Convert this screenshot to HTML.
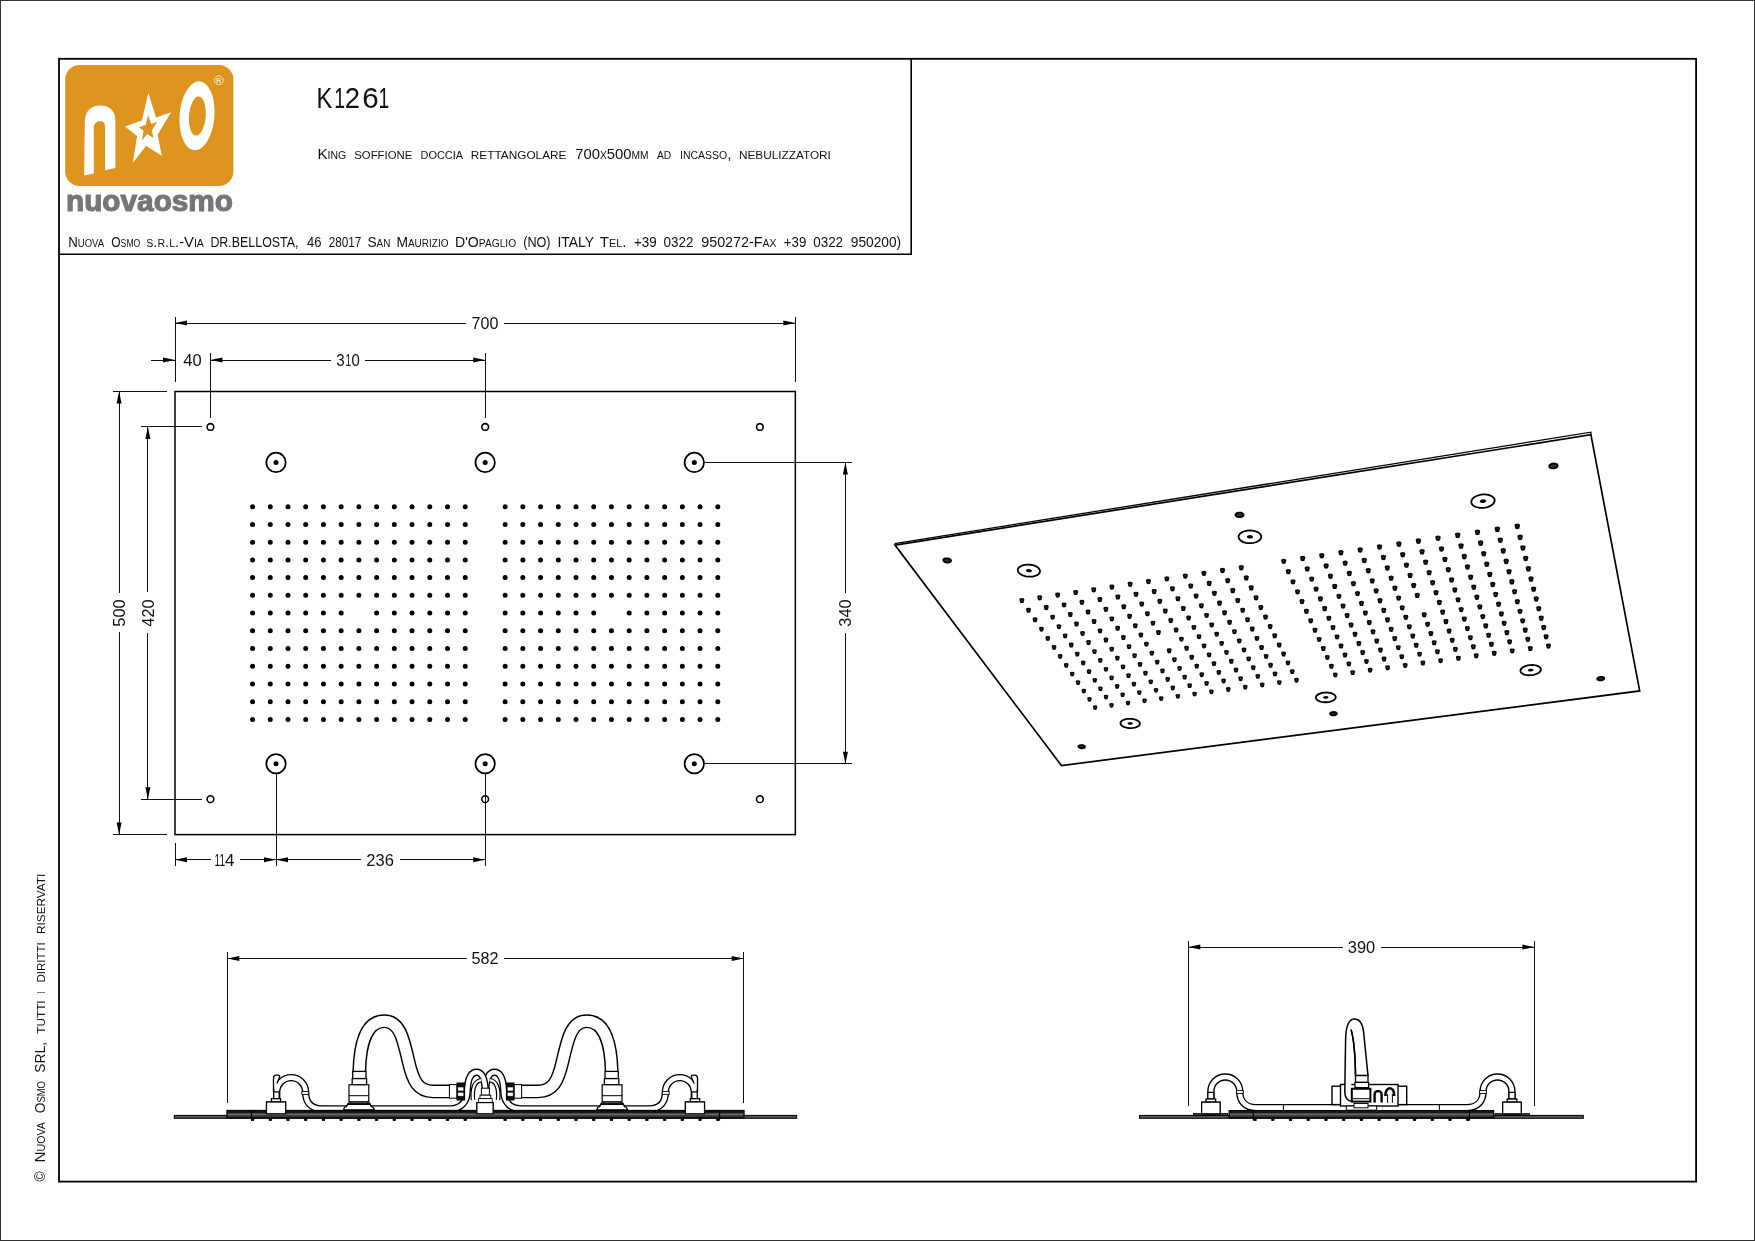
<!DOCTYPE html>
<html lang="it">
<head>
<meta charset="utf-8">
<title>K1261 - Nuova Osmo</title>
<style>
html,body{margin:0;padding:0;background:#fff;}
body{width:1755px;height:1241px;overflow:hidden;position:relative;}
svg{position:absolute;left:0;top:0;display:block;will-change:transform;}
text{font-family:"Liberation Sans", sans-serif;}
.t{fill:#111;}
.sc{font-variant:small-caps;font-variant-caps:small-caps;}
.dt{fill:#111;}
</style>
</head>
<body>
<svg width="1755" height="1241" viewBox="0 0 1755 1241">
<rect x="0.5" y="0.5" width="1754" height="1240" fill="#fff" stroke="#333" stroke-width="1"/>
<rect x="59" y="58.8" width="1637.1" height="1122.8" fill="none" stroke="#000" stroke-width="1.8"/>
<path d="M59,254.3 H911.2 V58.8" fill="none" stroke="#000" stroke-width="1.6"/>
<g id="logo">
<rect x="65.2" y="64.9" width="168.2" height="121.2" rx="14.5" ry="14.5" fill="#DE941F"/>
<path d="M84.2,175.4 L84.8,122 C85,110 92,105.6 100.2,105.6 C108.5,105.6 115.4,110 115.4,121 L115.4,168.1 L105.1,170.3 L105.1,127.5 C105.1,123 103.3,121.2 100.4,121.2 C97,121.2 93.8,123 93.8,128 L93.8,173.4 Z" fill="#fff"/>
<polygon points="148.3,92.9 156.1,117.4 171.1,112.2 157.6,134.8 161.9,156.1 146.1,145.7 132.8,163.1 137.1,136.1 124.9,126.4 141.9,120.6" fill="#fff"/>
<polygon points="148.1,115.1 151.2,123.9 157.2,122.1 151.8,130.2 153.6,137.9 147.2,134.1 141.9,140.4 143.6,130.7 138.8,127.2 145.6,125.1" fill="#DE941F"/>
<g transform="rotate(4.5 197 115.8)"><ellipse cx="197" cy="115.8" rx="17.4" ry="34.6" fill="#fff"/><ellipse cx="197.4" cy="116" rx="8.4" ry="19.6" fill="#DE941F"/></g>
<circle cx="218.8" cy="80.2" r="4.4" fill="none" stroke="#fbe6bd" stroke-width="1"/>
<text x="218.8" y="82.9" text-anchor="middle" font-size="7.5" font-weight="bold" fill="#fbe6bd" font-family='"Liberation Sans", sans-serif'>R</text>
<text x="66.0" y="211.0" font-size="30.2" font-weight="bold" fill="#767676" stroke="#767676" stroke-width="1.2" stroke-linejoin="round" textLength="167" lengthAdjust="spacingAndGlyphs" font-family='"Liberation Sans", sans-serif'>nuovaosmo</text>
</g>
<text y="107.90" font-size="29.3" class="t"><tspan x="316.55" textLength="15.83" lengthAdjust="spacingAndGlyphs">K</tspan><tspan x="334.30" textLength="10.76" lengthAdjust="spacingAndGlyphs">1</tspan><tspan x="344.83" textLength="15.25" lengthAdjust="spacingAndGlyphs">2</tspan><tspan x="362.30" textLength="16.41" lengthAdjust="spacingAndGlyphs">6</tspan><tspan x="378.40" textLength="10.76" lengthAdjust="spacingAndGlyphs">1</tspan></text>
<text y="158.60" font-size="14.5" class="t sc"><tspan x="317.40" textLength="28.80" lengthAdjust="spacingAndGlyphs">King</tspan> <tspan x="354.30" textLength="58.00" lengthAdjust="spacingAndGlyphs">soffione</tspan> <tspan x="420.50" textLength="42.60" lengthAdjust="spacingAndGlyphs">doccia</tspan> <tspan x="470.80" textLength="95.70" lengthAdjust="spacingAndGlyphs">rettangolare</tspan> <tspan x="575.20" textLength="73.30" lengthAdjust="spacingAndGlyphs">700x500mm</tspan> <tspan x="657.00" textLength="14.20" lengthAdjust="spacingAndGlyphs">ad</tspan> <tspan x="680.00" textLength="51.50" lengthAdjust="spacingAndGlyphs">incasso,</tspan> <tspan x="739.00" textLength="91.90" lengthAdjust="spacingAndGlyphs">nebulizzatori</tspan></text>
<text y="246.60" font-size="13.9" class="t sc"><tspan x="68.20" textLength="35.90" lengthAdjust="spacingAndGlyphs">Nuova</tspan> <tspan x="111.30" textLength="29.00" lengthAdjust="spacingAndGlyphs">Osmo</tspan> <tspan x="146.30" textLength="57.60" lengthAdjust="spacingAndGlyphs">s.r.l.-Via</tspan> <tspan x="210.40" textLength="88.10" lengthAdjust="spacingAndGlyphs">DR.BELLOSTA,</tspan> <tspan x="307.00" textLength="14.50" lengthAdjust="spacingAndGlyphs">46</tspan> <tspan x="328.70" textLength="32.70" lengthAdjust="spacingAndGlyphs">28017</tspan> <tspan x="367.40" textLength="23.00" lengthAdjust="spacingAndGlyphs">San</tspan> <tspan x="396.40" textLength="52.10" lengthAdjust="spacingAndGlyphs">Maurizio</tspan> <tspan x="454.90" textLength="61.20" lengthAdjust="spacingAndGlyphs">D&#39;Opaglio</tspan> <tspan x="523.20" textLength="27.40" lengthAdjust="spacingAndGlyphs">(NO)</tspan> <tspan x="557.40" textLength="36.40" lengthAdjust="spacingAndGlyphs">ITALY</tspan> <tspan x="599.80" textLength="26.50" lengthAdjust="spacingAndGlyphs">Tel.</tspan> <tspan x="634.00" textLength="22.80" lengthAdjust="spacingAndGlyphs">+39</tspan> <tspan x="663.60" textLength="29.90" lengthAdjust="spacingAndGlyphs">0322</tspan> <tspan x="701.20" textLength="75.20" lengthAdjust="spacingAndGlyphs">950272-Fax</tspan> <tspan x="783.80" textLength="22.50" lengthAdjust="spacingAndGlyphs">+39</tspan> <tspan x="813.20" textLength="29.90" lengthAdjust="spacingAndGlyphs">0322</tspan> <tspan x="850.80" textLength="50.40" lengthAdjust="spacingAndGlyphs">950200)</tspan></text>
<text transform="translate(45.20,1181.60) rotate(-90)" font-size="14.4" class="t sc"><tspan x="0.00" textLength="10.20" lengthAdjust="spacingAndGlyphs">©</tspan> <tspan x="19.10" textLength="40.50" lengthAdjust="spacingAndGlyphs">Nuova</tspan> <tspan x="68.40" textLength="32.20" lengthAdjust="spacingAndGlyphs">Osmo</tspan> <tspan x="108.90" textLength="30.70" lengthAdjust="spacingAndGlyphs">SRL,</tspan> <tspan x="147.90" textLength="33.30" lengthAdjust="spacingAndGlyphs">tutti</tspan> <tspan x="188.00" textLength="1.70" lengthAdjust="spacingAndGlyphs">i</tspan> <tspan x="199.00" textLength="40.40" lengthAdjust="spacingAndGlyphs">diritti</tspan> <tspan x="247.60" textLength="60.30" lengthAdjust="spacingAndGlyphs">riservati</tspan></text>
<rect x="175.0" y="391.5" width="620.34" height="443.10" fill="none" stroke="#000" stroke-width="1.5"/>
<circle cx="210.45" cy="426.95" r="3.35" fill="#fff" stroke="#000" stroke-width="1.6"/>
<circle cx="485.17" cy="426.95" r="3.35" fill="#fff" stroke="#000" stroke-width="1.6"/>
<circle cx="759.89" cy="426.95" r="3.35" fill="#fff" stroke="#000" stroke-width="1.6"/>
<circle cx="210.45" cy="799.15" r="3.35" fill="#fff" stroke="#000" stroke-width="1.6"/>
<circle cx="485.17" cy="799.15" r="3.35" fill="#fff" stroke="#000" stroke-width="1.6"/>
<circle cx="759.89" cy="799.15" r="3.35" fill="#fff" stroke="#000" stroke-width="1.6"/>
<circle cx="276.03" cy="462.40" r="9.7" fill="none" stroke="#000" stroke-width="1.75"/>
<circle cx="276.03" cy="462.40" r="2.5" fill="#000"/>
<circle cx="485.17" cy="462.40" r="9.7" fill="none" stroke="#000" stroke-width="1.75"/>
<circle cx="485.17" cy="462.40" r="2.5" fill="#000"/>
<circle cx="694.31" cy="462.40" r="9.7" fill="none" stroke="#000" stroke-width="1.75"/>
<circle cx="694.31" cy="462.40" r="2.5" fill="#000"/>
<circle cx="276.03" cy="763.70" r="9.7" fill="none" stroke="#000" stroke-width="1.75"/>
<circle cx="276.03" cy="763.70" r="2.5" fill="#000"/>
<circle cx="485.17" cy="763.70" r="9.7" fill="none" stroke="#000" stroke-width="1.75"/>
<circle cx="485.17" cy="763.70" r="2.5" fill="#000"/>
<circle cx="694.31" cy="763.70" r="9.7" fill="none" stroke="#000" stroke-width="1.75"/>
<circle cx="694.31" cy="763.70" r="2.5" fill="#000"/>
<path d="M252.54,506.71h0M252.54,524.43h0M252.54,542.15h0M252.54,559.88h0M252.54,577.60h0M252.54,595.33h0M252.54,613.05h0M252.54,630.77h0M252.54,648.50h0M252.54,666.22h0M252.54,683.95h0M252.54,701.67h0M252.54,719.39h0M270.27,506.71h0M270.27,524.43h0M270.27,542.15h0M270.27,559.88h0M270.27,577.60h0M270.27,595.33h0M270.27,613.05h0M270.27,630.77h0M270.27,648.50h0M270.27,666.22h0M270.27,683.95h0M270.27,701.67h0M270.27,719.39h0M287.99,506.71h0M287.99,524.43h0M287.99,542.15h0M287.99,559.88h0M287.99,577.60h0M287.99,595.33h0M287.99,613.05h0M287.99,630.77h0M287.99,648.50h0M287.99,666.22h0M287.99,683.95h0M287.99,701.67h0M287.99,719.39h0M305.71,506.71h0M305.71,524.43h0M305.71,542.15h0M305.71,559.88h0M305.71,577.60h0M305.71,595.33h0M305.71,613.05h0M305.71,630.77h0M305.71,648.50h0M305.71,666.22h0M305.71,683.95h0M305.71,701.67h0M305.71,719.39h0M323.44,506.71h0M323.44,524.43h0M323.44,542.15h0M323.44,559.88h0M323.44,577.60h0M323.44,595.33h0M323.44,613.05h0M323.44,630.77h0M323.44,648.50h0M323.44,666.22h0M323.44,683.95h0M323.44,701.67h0M323.44,719.39h0M341.16,506.71h0M341.16,524.43h0M341.16,542.15h0M341.16,559.88h0M341.16,577.60h0M341.16,595.33h0M341.16,613.05h0M341.16,630.77h0M341.16,648.50h0M341.16,666.22h0M341.16,683.95h0M341.16,701.67h0M341.16,719.39h0M358.89,506.71h0M358.89,524.43h0M358.89,542.15h0M358.89,559.88h0M358.89,577.60h0M358.89,595.33h0M358.89,630.77h0M358.89,648.50h0M358.89,666.22h0M358.89,683.95h0M358.89,701.67h0M358.89,719.39h0M376.61,506.71h0M376.61,524.43h0M376.61,542.15h0M376.61,559.88h0M376.61,577.60h0M376.61,595.33h0M376.61,613.05h0M376.61,630.77h0M376.61,648.50h0M376.61,666.22h0M376.61,683.95h0M376.61,701.67h0M376.61,719.39h0M394.33,506.71h0M394.33,524.43h0M394.33,542.15h0M394.33,559.88h0M394.33,577.60h0M394.33,595.33h0M394.33,613.05h0M394.33,630.77h0M394.33,648.50h0M394.33,666.22h0M394.33,683.95h0M394.33,701.67h0M394.33,719.39h0M412.06,506.71h0M412.06,524.43h0M412.06,542.15h0M412.06,559.88h0M412.06,577.60h0M412.06,595.33h0M412.06,613.05h0M412.06,630.77h0M412.06,648.50h0M412.06,666.22h0M412.06,683.95h0M412.06,701.67h0M412.06,719.39h0M429.78,506.71h0M429.78,524.43h0M429.78,542.15h0M429.78,559.88h0M429.78,577.60h0M429.78,595.33h0M429.78,613.05h0M429.78,630.77h0M429.78,648.50h0M429.78,666.22h0M429.78,683.95h0M429.78,701.67h0M429.78,719.39h0M447.51,506.71h0M447.51,524.43h0M447.51,542.15h0M447.51,559.88h0M447.51,577.60h0M447.51,595.33h0M447.51,613.05h0M447.51,630.77h0M447.51,648.50h0M447.51,666.22h0M447.51,683.95h0M447.51,701.67h0M447.51,719.39h0M465.23,506.71h0M465.23,524.43h0M465.23,542.15h0M465.23,559.88h0M465.23,577.60h0M465.23,595.33h0M465.23,613.05h0M465.23,630.77h0M465.23,648.50h0M465.23,666.22h0M465.23,683.95h0M465.23,701.67h0M465.23,719.39h0M505.11,506.71h0M505.11,524.43h0M505.11,542.15h0M505.11,559.88h0M505.11,577.60h0M505.11,595.33h0M505.11,613.05h0M505.11,630.77h0M505.11,648.50h0M505.11,666.22h0M505.11,683.95h0M505.11,701.67h0M505.11,719.39h0M522.83,506.71h0M522.83,524.43h0M522.83,542.15h0M522.83,559.88h0M522.83,577.60h0M522.83,595.33h0M522.83,613.05h0M522.83,630.77h0M522.83,648.50h0M522.83,666.22h0M522.83,683.95h0M522.83,701.67h0M522.83,719.39h0M540.56,506.71h0M540.56,524.43h0M540.56,542.15h0M540.56,559.88h0M540.56,577.60h0M540.56,595.33h0M540.56,613.05h0M540.56,630.77h0M540.56,648.50h0M540.56,666.22h0M540.56,683.95h0M540.56,701.67h0M540.56,719.39h0M558.28,506.71h0M558.28,524.43h0M558.28,542.15h0M558.28,559.88h0M558.28,577.60h0M558.28,595.33h0M558.28,613.05h0M558.28,630.77h0M558.28,648.50h0M558.28,666.22h0M558.28,683.95h0M558.28,701.67h0M558.28,719.39h0M576.01,506.71h0M576.01,524.43h0M576.01,542.15h0M576.01,559.88h0M576.01,577.60h0M576.01,595.33h0M576.01,613.05h0M576.01,630.77h0M576.01,648.50h0M576.01,666.22h0M576.01,683.95h0M576.01,701.67h0M576.01,719.39h0M593.73,506.71h0M593.73,524.43h0M593.73,542.15h0M593.73,559.88h0M593.73,577.60h0M593.73,595.33h0M593.73,613.05h0M593.73,630.77h0M593.73,648.50h0M593.73,666.22h0M593.73,683.95h0M593.73,701.67h0M593.73,719.39h0M611.45,506.71h0M611.45,524.43h0M611.45,542.15h0M611.45,559.88h0M611.45,577.60h0M611.45,595.33h0M611.45,630.77h0M611.45,648.50h0M611.45,666.22h0M611.45,683.95h0M611.45,701.67h0M611.45,719.39h0M629.18,506.71h0M629.18,524.43h0M629.18,542.15h0M629.18,559.88h0M629.18,577.60h0M629.18,595.33h0M629.18,613.05h0M629.18,630.77h0M629.18,648.50h0M629.18,666.22h0M629.18,683.95h0M629.18,701.67h0M629.18,719.39h0M646.90,506.71h0M646.90,524.43h0M646.90,542.15h0M646.90,559.88h0M646.90,577.60h0M646.90,595.33h0M646.90,613.05h0M646.90,630.77h0M646.90,648.50h0M646.90,666.22h0M646.90,683.95h0M646.90,701.67h0M646.90,719.39h0M664.63,506.71h0M664.63,524.43h0M664.63,542.15h0M664.63,559.88h0M664.63,577.60h0M664.63,595.33h0M664.63,613.05h0M664.63,630.77h0M664.63,648.50h0M664.63,666.22h0M664.63,683.95h0M664.63,701.67h0M664.63,719.39h0M682.35,506.71h0M682.35,524.43h0M682.35,542.15h0M682.35,559.88h0M682.35,577.60h0M682.35,595.33h0M682.35,613.05h0M682.35,630.77h0M682.35,648.50h0M682.35,666.22h0M682.35,683.95h0M682.35,701.67h0M682.35,719.39h0M700.07,506.71h0M700.07,524.43h0M700.07,542.15h0M700.07,559.88h0M700.07,577.60h0M700.07,595.33h0M700.07,613.05h0M700.07,630.77h0M700.07,648.50h0M700.07,666.22h0M700.07,683.95h0M700.07,701.67h0M700.07,719.39h0M717.80,506.71h0M717.80,524.43h0M717.80,542.15h0M717.80,559.88h0M717.80,577.60h0M717.80,595.33h0M717.80,613.05h0M717.80,630.77h0M717.80,648.50h0M717.80,666.22h0M717.80,683.95h0M717.80,701.67h0M717.80,719.39h0" stroke="#000" stroke-width="5.0" stroke-linecap="round" fill="none"/>
<line x1="175.00" y1="317.00" x2="175.00" y2="382.20" stroke="#111" stroke-width="1.0"  shape-rendering="crispEdges"/>
<line x1="795.34" y1="317.00" x2="795.34" y2="382.20" stroke="#111" stroke-width="1.0"  shape-rendering="crispEdges"/>
<line x1="175.00" y1="323.00" x2="466.10" y2="323.00" stroke="#111" stroke-width="1.0"  shape-rendering="crispEdges"/>
<line x1="503.90" y1="323.00" x2="795.34" y2="323.00" stroke="#111" stroke-width="1.0"  shape-rendering="crispEdges"/>
<polygon points="175.00,323.00 187.00,320.50 187.00,325.50" fill="#000"/>
<polygon points="795.34,323.00 783.34,320.50 783.34,325.50" fill="#000"/>
<text x="485.00" y="328.80" text-anchor="middle" font-size="16.2" textLength="26.8" lengthAdjust="spacingAndGlyphs" class="dt">700</text>
<line x1="210.45" y1="353.40" x2="210.45" y2="417.80" stroke="#111" stroke-width="1.0"  shape-rendering="crispEdges"/>
<line x1="485.17" y1="353.40" x2="485.17" y2="417.80" stroke="#111" stroke-width="1.0"  shape-rendering="crispEdges"/>
<line x1="151.00" y1="360.00" x2="175.00" y2="360.00" stroke="#111" stroke-width="1.0"  shape-rendering="crispEdges"/>
<polygon points="175.00,360.00 163.00,357.50 163.00,362.50" fill="#000"/>
<text x="192.50" y="365.80" text-anchor="middle" font-size="16.2" textLength="18.4" lengthAdjust="spacingAndGlyphs" class="dt">40</text>
<line x1="210.45" y1="360.00" x2="330.90" y2="360.00" stroke="#111" stroke-width="1.0"  shape-rendering="crispEdges"/>
<line x1="365.10" y1="360.00" x2="485.17" y2="360.00" stroke="#111" stroke-width="1.0"  shape-rendering="crispEdges"/>
<polygon points="210.45,360.00 222.45,357.50 222.45,362.50" fill="#000"/>
<polygon points="485.17,360.00 473.17,357.50 473.17,362.50" fill="#000"/>
<text y="365.80" font-size="16.2" class="dt"><tspan x="336.23" textLength="8.39" lengthAdjust="spacingAndGlyphs">3</tspan><tspan x="345.44" textLength="5.59" lengthAdjust="spacingAndGlyphs">1</tspan><tspan x="351.42" textLength="8.32" lengthAdjust="spacingAndGlyphs">0</tspan></text>
<line x1="175.00" y1="843.00" x2="175.00" y2="865.80" stroke="#111" stroke-width="1.0"  shape-rendering="crispEdges"/>
<line x1="276.03" y1="773.60" x2="276.03" y2="865.80" stroke="#111" stroke-width="1.0"  shape-rendering="crispEdges"/>
<line x1="485.17" y1="773.60" x2="485.17" y2="865.80" stroke="#111" stroke-width="1.0"  shape-rendering="crispEdges"/>
<line x1="175.00" y1="859.70" x2="211.30" y2="859.70" stroke="#111" stroke-width="1.0"  shape-rendering="crispEdges"/>
<line x1="240.00" y1="859.70" x2="276.03" y2="859.70" stroke="#111" stroke-width="1.0"  shape-rendering="crispEdges"/>
<polygon points="175.00,859.70 187.00,857.20 187.00,862.20" fill="#000"/>
<polygon points="276.03,859.70 264.03,857.20 264.03,862.20" fill="#000"/>
<text y="865.50" font-size="16.2" class="dt"><tspan x="214.49" textLength="5.59" lengthAdjust="spacingAndGlyphs">1</tspan><tspan x="219.44" textLength="5.59" lengthAdjust="spacingAndGlyphs">1</tspan><tspan x="224.91" textLength="9.44" lengthAdjust="spacingAndGlyphs">4</tspan></text>
<line x1="276.03" y1="859.70" x2="360.80" y2="859.70" stroke="#111" stroke-width="1.0"  shape-rendering="crispEdges"/>
<line x1="399.60" y1="859.70" x2="485.17" y2="859.70" stroke="#111" stroke-width="1.0"  shape-rendering="crispEdges"/>
<polygon points="276.03,859.70 288.03,857.20 288.03,862.20" fill="#000"/>
<polygon points="485.17,859.70 473.17,857.20 473.17,862.20" fill="#000"/>
<text x="380.10" y="865.50" text-anchor="middle" font-size="16.2" textLength="27.6" lengthAdjust="spacingAndGlyphs" class="dt">236</text>
<line x1="704.81" y1="462.40" x2="852.00" y2="462.40" stroke="#111" stroke-width="1.0"  shape-rendering="crispEdges"/>
<line x1="704.81" y1="763.70" x2="852.00" y2="763.70" stroke="#111" stroke-width="1.0"  shape-rendering="crispEdges"/>
<line x1="845.40" y1="462.40" x2="845.40" y2="593.00" stroke="#111" stroke-width="1.0"  shape-rendering="crispEdges"/>
<line x1="845.40" y1="632.50" x2="845.40" y2="763.70" stroke="#111" stroke-width="1.0"  shape-rendering="crispEdges"/>
<polygon points="845.40,462.40 842.90,474.40 847.90,474.40" fill="#000"/>
<polygon points="845.40,763.70 842.90,751.70 847.90,751.70" fill="#000"/>
<text transform="translate(851.20,613.05) rotate(-90)" text-anchor="middle" font-size="16.2" textLength="27.2" lengthAdjust="spacingAndGlyphs" class="dt">340</text>
<line x1="113.00" y1="391.50" x2="166.50" y2="391.50" stroke="#111" stroke-width="1.0"  shape-rendering="crispEdges"/>
<line x1="113.00" y1="834.60" x2="166.50" y2="834.60" stroke="#111" stroke-width="1.0"  shape-rendering="crispEdges"/>
<line x1="119.10" y1="391.50" x2="119.10" y2="593.20" stroke="#111" stroke-width="1.0"  shape-rendering="crispEdges"/>
<line x1="119.10" y1="632.00" x2="119.10" y2="834.60" stroke="#111" stroke-width="1.0"  shape-rendering="crispEdges"/>
<polygon points="119.10,391.50 116.60,403.50 121.60,403.50" fill="#000"/>
<polygon points="119.10,834.60 116.60,822.60 121.60,822.60" fill="#000"/>
<text transform="translate(124.90,613.05) rotate(-90)" text-anchor="middle" font-size="16.2" textLength="27.2" lengthAdjust="spacingAndGlyphs" class="dt">500</text>
<line x1="141.40" y1="426.95" x2="201.70" y2="426.95" stroke="#111" stroke-width="1.0"  shape-rendering="crispEdges"/>
<line x1="141.40" y1="799.15" x2="201.70" y2="799.15" stroke="#111" stroke-width="1.0"  shape-rendering="crispEdges"/>
<line x1="147.90" y1="426.95" x2="147.90" y2="592.00" stroke="#111" stroke-width="1.0"  shape-rendering="crispEdges"/>
<line x1="147.90" y1="633.00" x2="147.90" y2="799.15" stroke="#111" stroke-width="1.0"  shape-rendering="crispEdges"/>
<polygon points="147.90,426.95 145.40,438.95 150.40,438.95" fill="#000"/>
<polygon points="147.90,799.15 145.40,787.15 150.40,787.15" fill="#000"/>
<text transform="translate(153.70,613.05) rotate(-90)" text-anchor="middle" font-size="16.2" textLength="27.2" lengthAdjust="spacingAndGlyphs" class="dt">420</text>
<g id="persp">
<polygon points="895.00,545.10 1590.90,434.70 1639.70,690.90 1061.45,765.60" fill="none" stroke="#000" stroke-width="1.7" stroke-linejoin="miter"/>
<path d="M894.60,543.60 L1590.90,432.20 L1590.90,434.70" fill="none" stroke="#000" stroke-width="1.3"/>
<polygon points="950.68,559.89 950.87,560.21 950.96,560.54 950.96,560.87 950.86,561.19 950.68,561.48 950.40,561.76 950.05,562.00 949.62,562.20 949.13,562.36 948.59,562.47 948.02,562.53 947.43,562.54 946.82,562.50 946.23,562.41 945.66,562.26 945.12,562.08 944.63,561.85 944.21,561.59 943.85,561.30 943.58,560.99 943.39,560.67 943.30,560.34 943.30,560.01 943.39,559.69 943.58,559.39 943.85,559.12 944.21,558.88 944.63,558.68 945.12,558.52 945.66,558.41 946.23,558.34 946.83,558.33 947.44,558.38 948.03,558.47 948.61,558.61 949.14,558.80 949.63,559.02 950.06,559.28 950.41,559.58" fill="#333" stroke="#000" stroke-width="1.9"/>
<polygon points="1243.36,514.29 1243.48,514.64 1243.49,514.99 1243.41,515.34 1243.24,515.68 1242.97,516.00 1242.62,516.30 1242.20,516.55 1241.71,516.77 1241.16,516.94 1240.58,517.06 1239.97,517.13 1239.36,517.14 1238.74,517.09 1238.15,516.99 1237.59,516.84 1237.08,516.64 1236.63,516.40 1236.25,516.12 1235.95,515.81 1235.75,515.48 1235.63,515.13 1235.61,514.78 1235.69,514.42 1235.86,514.08 1236.13,513.76 1236.48,513.47 1236.90,513.21 1237.39,512.99 1237.94,512.82 1238.52,512.70 1239.13,512.64 1239.75,512.62 1240.37,512.67 1240.96,512.77 1241.52,512.92 1242.03,513.12 1242.48,513.36 1242.86,513.65 1243.16,513.96" fill="#333" stroke="#000" stroke-width="1.9"/>
<polygon points="1557.52,465.35 1557.55,465.72 1557.48,466.10 1557.31,466.48 1557.04,466.85 1556.68,467.19 1556.25,467.51 1555.74,467.78 1555.18,468.02 1554.58,468.20 1553.94,468.33 1553.30,468.40 1552.66,468.41 1552.03,468.36 1551.44,468.25 1550.90,468.09 1550.42,467.88 1550.02,467.62 1549.70,467.32 1549.46,466.98 1549.33,466.62 1549.30,466.25 1549.37,465.87 1549.54,465.49 1549.80,465.12 1550.16,464.78 1550.59,464.46 1551.10,464.19 1551.66,463.95 1552.27,463.77 1552.90,463.64 1553.55,463.57 1554.19,463.56 1554.82,463.60 1555.41,463.71 1555.95,463.88 1556.43,464.09 1556.84,464.35 1557.16,464.66 1557.39,464.99" fill="#333" stroke="#000" stroke-width="1.9"/>
<polygon points="1084.79,746.29 1084.92,746.53 1084.96,746.77 1084.93,747.01 1084.82,747.24 1084.64,747.45 1084.38,747.65 1084.05,747.82 1083.67,747.97 1083.24,748.09 1082.77,748.17 1082.28,748.21 1081.77,748.22 1081.26,748.19 1080.77,748.12 1080.29,748.02 1079.85,747.89 1079.46,747.72 1079.12,747.53 1078.84,747.33 1078.64,747.10 1078.51,746.86 1078.46,746.63 1078.49,746.39 1078.60,746.16 1078.78,745.94 1079.04,745.74 1079.37,745.57 1079.75,745.42 1080.18,745.30 1080.65,745.22 1081.14,745.18 1081.65,745.17 1082.16,745.20 1082.66,745.27 1083.14,745.37 1083.58,745.50 1083.97,745.67 1084.31,745.86 1084.58,746.07" fill="#333" stroke="#000" stroke-width="1.9"/>
<polygon points="1336.73,713.26 1336.80,713.51 1336.80,713.76 1336.71,714.02 1336.54,714.26 1336.29,714.49 1335.98,714.70 1335.60,714.88 1335.17,715.04 1334.70,715.16 1334.20,715.25 1333.68,715.30 1333.16,715.30 1332.64,715.27 1332.15,715.20 1331.68,715.09 1331.26,714.95 1330.90,714.78 1330.59,714.58 1330.36,714.35 1330.20,714.11 1330.13,713.86 1330.13,713.61 1330.22,713.36 1330.39,713.11 1330.63,712.88 1330.95,712.67 1331.32,712.49 1331.75,712.33 1332.22,712.21 1332.73,712.12 1333.25,712.07 1333.77,712.06 1334.29,712.10 1334.79,712.17 1335.25,712.28 1335.67,712.42 1336.04,712.59 1336.34,712.80 1336.57,713.02" fill="#333" stroke="#000" stroke-width="1.9"/>
<polygon points="1604.24,678.18 1604.26,678.45 1604.18,678.72 1604.03,678.99 1603.79,679.25 1603.48,679.49 1603.11,679.71 1602.68,679.91 1602.20,680.08 1601.68,680.21 1601.14,680.30 1600.60,680.35 1600.06,680.36 1599.53,680.32 1599.04,680.25 1598.59,680.13 1598.19,679.98 1597.86,679.80 1597.59,679.58 1597.41,679.35 1597.31,679.09 1597.29,678.83 1597.36,678.56 1597.52,678.29 1597.75,678.03 1598.06,677.78 1598.43,677.56 1598.87,677.36 1599.35,677.19 1599.86,677.06 1600.40,676.97 1600.95,676.92 1601.49,676.91 1602.02,676.95 1602.51,677.02 1602.97,677.14 1603.36,677.29 1603.70,677.48 1603.96,677.69 1604.14,677.93" fill="#333" stroke="#000" stroke-width="1.9"/>
<polygon points="1039.32,569.09 1039.79,570.02 1039.99,570.97 1039.92,571.91 1039.58,572.82 1038.98,573.68 1038.13,574.46 1037.05,575.14 1035.78,575.72 1034.34,576.17 1032.76,576.49 1031.09,576.67 1029.37,576.70 1027.64,576.58 1025.94,576.31 1024.31,575.91 1022.79,575.38 1021.42,574.74 1020.24,573.99 1019.26,573.16 1018.52,572.27 1018.04,571.34 1017.82,570.39 1017.87,569.45 1018.20,568.53 1018.79,567.67 1019.64,566.88 1020.71,566.18 1021.99,565.60 1023.44,565.14 1025.02,564.81 1026.70,564.64 1028.44,564.61 1030.19,564.73 1031.91,565.00 1033.55,565.40 1035.07,565.94 1036.44,566.60 1037.63,567.35 1038.60,568.19" fill="none" stroke="#000" stroke-width="1.8"/>
<polygon points="1031.74,570.25 1031.87,570.50 1031.92,570.76 1031.91,571.02 1031.82,571.26 1031.65,571.50 1031.42,571.71 1031.13,571.90 1030.78,572.06 1030.39,572.18 1029.96,572.27 1029.51,572.31 1029.04,572.32 1028.56,572.29 1028.10,572.22 1027.66,572.11 1027.24,571.96 1026.87,571.79 1026.55,571.58 1026.28,571.36 1026.08,571.11 1025.95,570.86 1025.89,570.60 1025.91,570.35 1026.00,570.10 1026.16,569.86 1026.39,569.65 1026.69,569.46 1027.03,569.30 1027.43,569.18 1027.86,569.09 1028.31,569.04 1028.78,569.03 1029.26,569.07 1029.72,569.14 1030.17,569.25 1030.58,569.40 1030.95,569.57 1031.28,569.78 1031.54,570.00" fill="#000"/>
<polygon points="1260.91,535.18 1261.22,536.16 1261.25,537.16 1261.01,538.16 1260.49,539.11 1259.71,540.02 1258.70,540.84 1257.47,541.56 1256.06,542.17 1254.50,542.65 1252.83,542.98 1251.08,543.17 1249.32,543.20 1247.56,543.07 1245.86,542.80 1244.26,542.37 1242.80,541.81 1241.52,541.13 1240.43,540.34 1239.58,539.47 1238.99,538.53 1238.66,537.55 1238.61,536.55 1238.84,535.55 1239.34,534.59 1240.10,533.68 1241.11,532.85 1242.34,532.12 1243.75,531.50 1245.32,531.01 1247.01,530.67 1248.77,530.48 1250.56,530.45 1252.33,530.58 1254.04,530.86 1255.65,531.29 1257.12,531.86 1258.41,532.55 1259.48,533.35 1260.32,534.23" fill="none" stroke="#000" stroke-width="1.8"/>
<polygon points="1252.91,536.40 1253.00,536.67 1253.01,536.94 1252.95,537.21 1252.81,537.47 1252.60,537.72 1252.32,537.94 1251.99,538.14 1251.60,538.31 1251.18,538.44 1250.72,538.53 1250.25,538.58 1249.76,538.59 1249.29,538.55 1248.82,538.48 1248.39,538.36 1247.99,538.21 1247.64,538.02 1247.34,537.81 1247.11,537.57 1246.95,537.31 1246.87,537.05 1246.85,536.77 1246.92,536.50 1247.06,536.24 1247.26,535.99 1247.54,535.77 1247.87,535.57 1248.26,535.40 1248.68,535.27 1249.14,535.18 1249.62,535.13 1250.10,535.12 1250.58,535.16 1251.05,535.23 1251.48,535.35 1251.88,535.50 1252.23,535.69 1252.52,535.91 1252.75,536.14" fill="#000"/>
<polygon points="1494.56,499.42 1494.69,500.46 1494.54,501.52 1494.10,502.57 1493.39,503.58 1492.43,504.53 1491.23,505.40 1489.84,506.16 1488.27,506.80 1486.58,507.31 1484.80,507.66 1482.98,507.86 1481.16,507.89 1479.38,507.76 1477.69,507.46 1476.13,507.01 1474.73,506.42 1473.54,505.71 1472.58,504.87 1471.87,503.95 1471.43,502.96 1471.28,501.92 1471.41,500.87 1471.83,499.82 1472.52,498.80 1473.48,497.84 1474.67,496.96 1476.07,496.19 1477.64,495.53 1479.34,495.02 1481.13,494.66 1482.97,494.46 1484.81,494.43 1486.61,494.56 1488.31,494.86 1489.89,495.32 1491.29,495.92 1492.48,496.65 1493.44,497.49 1494.13,498.42" fill="none" stroke="#000" stroke-width="1.8"/>
<polygon points="1486.12,500.71 1486.16,500.99 1486.12,501.28 1486.00,501.57 1485.81,501.84 1485.55,502.10 1485.23,502.34 1484.85,502.55 1484.42,502.72 1483.96,502.86 1483.48,502.96 1482.98,503.01 1482.48,503.02 1482.00,502.98 1481.53,502.90 1481.11,502.78 1480.73,502.62 1480.40,502.42 1480.14,502.20 1479.95,501.94 1479.83,501.67 1479.79,501.39 1479.83,501.10 1479.95,500.82 1480.14,500.54 1480.40,500.28 1480.72,500.04 1481.10,499.84 1481.53,499.66 1481.99,499.52 1482.48,499.42 1482.98,499.37 1483.47,499.36 1483.96,499.40 1484.42,499.48 1484.85,499.60 1485.23,499.76 1485.55,499.96 1485.82,500.19 1486.01,500.44" fill="#000"/>
<polygon points="1139.41,722.22 1139.76,722.94 1139.87,723.67 1139.74,724.39 1139.37,725.09 1138.78,725.75 1137.98,726.36 1136.99,726.88 1135.83,727.33 1134.54,727.68 1133.13,727.93 1131.66,728.06 1130.14,728.08 1128.63,727.99 1127.16,727.79 1125.76,727.48 1124.46,727.07 1123.31,726.58 1122.32,726.00 1121.53,725.36 1120.94,724.68 1120.58,723.96 1120.46,723.23 1120.58,722.50 1120.93,721.80 1121.51,721.14 1122.31,720.53 1123.30,719.99 1124.46,719.54 1125.76,719.19 1127.18,718.94 1128.66,718.80 1130.19,718.78 1131.71,718.87 1133.20,719.07 1134.61,719.39 1135.91,719.80 1137.06,720.31 1138.05,720.89 1138.84,721.53" fill="none" stroke="#000" stroke-width="1.8"/>
<polygon points="1132.68,723.12 1132.77,723.31 1132.80,723.51 1132.77,723.71 1132.67,723.90 1132.51,724.08 1132.30,724.24 1132.03,724.39 1131.71,724.51 1131.36,724.60 1130.97,724.67 1130.57,724.71 1130.16,724.71 1129.75,724.69 1129.35,724.63 1128.96,724.55 1128.61,724.44 1128.30,724.30 1128.03,724.15 1127.81,723.97 1127.66,723.78 1127.56,723.59 1127.53,723.39 1127.56,723.19 1127.66,723.00 1127.82,722.82 1128.03,722.66 1128.30,722.51 1128.62,722.39 1128.97,722.29 1129.35,722.23 1129.76,722.19 1130.17,722.18 1130.58,722.21 1130.99,722.26 1131.37,722.35 1131.72,722.46 1132.04,722.60 1132.31,722.75 1132.52,722.93" fill="#000"/>
<polygon points="1335.46,696.12 1335.68,696.88 1335.66,697.64 1335.39,698.40 1334.89,699.13 1334.17,699.82 1333.24,700.45 1332.13,701.01 1330.86,701.47 1329.47,701.84 1327.99,702.10 1326.46,702.24 1324.91,702.26 1323.38,702.17 1321.91,701.96 1320.53,701.63 1319.28,701.21 1318.19,700.68 1317.29,700.08 1316.59,699.41 1316.12,698.70 1315.88,697.94 1315.89,697.18 1316.14,696.42 1316.63,695.68 1317.35,694.99 1318.27,694.35 1319.39,693.79 1320.66,693.32 1322.05,692.94 1323.54,692.68 1325.09,692.54 1326.65,692.51 1328.19,692.61 1329.68,692.83 1331.06,693.16 1332.31,693.59 1333.40,694.12 1334.30,694.73 1334.99,695.40" fill="none" stroke="#000" stroke-width="1.8"/>
<polygon points="1328.41,697.06 1328.47,697.26 1328.46,697.47 1328.39,697.68 1328.26,697.88 1328.06,698.07 1327.81,698.24 1327.51,698.39 1327.16,698.52 1326.78,698.62 1326.38,698.69 1325.96,698.73 1325.54,698.73 1325.12,698.71 1324.72,698.65 1324.35,698.56 1324.01,698.44 1323.71,698.30 1323.46,698.14 1323.28,697.96 1323.15,697.76 1323.09,697.56 1323.09,697.35 1323.16,697.14 1323.29,696.94 1323.49,696.75 1323.74,696.58 1324.04,696.43 1324.39,696.30 1324.77,696.20 1325.17,696.13 1325.59,696.09 1326.01,696.08 1326.43,696.11 1326.83,696.17 1327.21,696.26 1327.55,696.37 1327.85,696.52 1328.09,696.68 1328.28,696.86" fill="#000"/>
<polygon points="1540.80,668.79 1540.89,669.58 1540.72,670.38 1540.31,671.17 1539.66,671.94 1538.79,672.67 1537.72,673.33 1536.48,673.91 1535.10,674.40 1533.61,674.78 1532.05,675.05 1530.45,675.20 1528.86,675.23 1527.32,675.13 1525.85,674.90 1524.50,674.56 1523.31,674.12 1522.29,673.57 1521.48,672.94 1520.89,672.24 1520.54,671.48 1520.44,670.70 1520.59,669.89 1520.99,669.10 1521.63,668.32 1522.49,667.59 1523.56,666.93 1524.80,666.34 1526.19,665.84 1527.69,665.45 1529.26,665.18 1530.87,665.03 1532.47,665.00 1534.03,665.10 1535.51,665.33 1536.86,665.67 1538.06,666.13 1539.08,666.68 1539.89,667.32 1540.47,668.03" fill="none" stroke="#000" stroke-width="1.8"/>
<polygon points="1533.41,669.77 1533.44,669.98 1533.40,670.20 1533.29,670.42 1533.11,670.63 1532.87,670.83 1532.58,671.01 1532.25,671.16 1531.87,671.30 1531.46,671.40 1531.04,671.48 1530.60,671.52 1530.17,671.52 1529.75,671.50 1529.35,671.44 1528.98,671.34 1528.65,671.22 1528.38,671.07 1528.16,670.90 1528.00,670.71 1527.90,670.50 1527.88,670.29 1527.92,670.07 1528.03,669.85 1528.21,669.64 1528.44,669.45 1528.73,669.27 1529.07,669.11 1529.45,668.97 1529.85,668.87 1530.28,668.79 1530.72,668.75 1531.15,668.74 1531.57,668.77 1531.97,668.83 1532.34,668.93 1532.67,669.05 1532.94,669.20 1533.16,669.37 1533.32,669.56" fill="#000"/>
<path d="M1019.35,599.45Q1019.35,598.00 1021.87,598.00Q1024.40,598.00 1024.40,599.45L1023.58,602.69Q1021.87,603.50 1020.16,602.69ZM1026.00,609.16Q1026.00,607.72 1028.51,607.72Q1031.01,607.72 1031.01,609.16L1030.21,612.38Q1028.51,613.18 1026.81,612.38ZM1032.55,618.71Q1032.55,617.29 1035.04,617.29Q1037.53,617.29 1037.53,618.71L1036.73,621.91Q1035.04,622.71 1033.35,621.91ZM1039.00,628.12Q1039.00,626.71 1041.47,626.71Q1043.94,626.71 1043.94,628.12L1043.15,631.29Q1041.47,632.08 1039.79,631.29ZM1045.35,637.38Q1045.35,635.97 1047.80,635.97Q1050.25,635.97 1050.25,637.38L1049.46,640.53Q1047.80,641.32 1046.14,640.53ZM1051.60,646.49Q1051.60,645.10 1054.03,645.10Q1056.46,645.10 1056.46,646.49L1055.68,649.62Q1054.03,650.40 1052.38,649.62ZM1057.75,655.47Q1057.75,654.09 1060.17,654.09Q1062.58,654.09 1062.58,655.47L1061.81,658.57Q1060.17,659.35 1058.53,658.57ZM1063.81,664.31Q1063.81,662.93 1066.21,662.93Q1068.61,662.93 1068.61,664.31L1067.84,667.39Q1066.21,668.16 1064.58,667.39ZM1069.78,673.01Q1069.78,671.65 1072.16,671.65Q1074.54,671.65 1074.54,673.01L1073.78,676.08Q1072.16,676.84 1070.54,676.08ZM1075.66,681.59Q1075.66,680.23 1078.02,680.23Q1080.39,680.23 1080.39,681.59L1079.63,684.63Q1078.02,685.39 1076.42,684.63ZM1081.45,690.03Q1081.45,688.69 1083.80,688.69Q1086.15,688.69 1086.15,690.03L1085.39,693.06Q1083.80,693.81 1082.20,693.06ZM1087.15,698.36Q1087.15,697.02 1089.49,697.02Q1091.82,697.02 1091.82,698.36L1091.07,701.36Q1089.49,702.11 1087.90,701.36ZM1092.77,706.56Q1092.77,705.23 1095.09,705.23Q1097.41,705.23 1097.41,706.56L1096.66,709.54Q1095.09,710.28 1093.52,709.54ZM1037.19,596.77Q1037.19,595.32 1039.72,595.32Q1042.26,595.32 1042.26,596.77L1041.44,600.03Q1039.72,600.84 1038.00,600.03ZM1043.72,606.52Q1043.72,605.08 1046.23,605.08Q1048.75,605.08 1048.75,606.52L1047.94,609.75Q1046.23,610.56 1044.52,609.75ZM1050.14,616.12Q1050.14,614.69 1052.64,614.69Q1055.13,614.69 1055.13,616.12L1054.33,619.33Q1052.64,620.13 1050.94,619.33ZM1056.46,625.56Q1056.46,624.14 1058.94,624.14Q1061.42,624.14 1061.42,625.56L1060.62,628.75Q1058.94,629.55 1057.26,628.75ZM1062.69,634.86Q1062.69,633.45 1065.15,633.45Q1067.61,633.45 1067.61,634.86L1066.82,638.02Q1065.15,638.82 1063.48,638.02ZM1068.81,644.01Q1068.81,642.62 1071.26,642.62Q1073.70,642.62 1073.70,644.01L1072.92,647.16Q1071.26,647.94 1069.60,647.16ZM1074.85,653.03Q1074.85,651.64 1077.27,651.64Q1079.70,651.64 1079.70,653.03L1078.92,656.15Q1077.27,656.93 1075.63,656.15ZM1080.79,661.90Q1080.79,660.53 1083.20,660.53Q1085.61,660.53 1085.61,661.90L1084.83,665.00Q1083.20,665.77 1081.56,665.00ZM1086.64,670.64Q1086.64,669.28 1089.03,669.28Q1091.42,669.28 1091.42,670.64L1090.66,673.72Q1089.03,674.49 1087.41,673.72ZM1092.40,679.25Q1092.40,677.90 1094.78,677.90Q1097.15,677.90 1097.15,679.25L1096.39,682.31Q1094.78,683.07 1093.17,682.31ZM1098.08,687.74Q1098.08,686.39 1100.44,686.39Q1102.80,686.39 1102.80,687.74L1102.04,690.77Q1100.44,691.53 1098.84,690.77ZM1103.67,696.09Q1103.67,694.75 1106.02,694.75Q1108.36,694.75 1108.36,696.09L1107.61,699.10Q1106.02,699.86 1104.43,699.10ZM1109.19,704.33Q1109.19,703.00 1111.51,703.00Q1113.84,703.00 1113.84,704.33L1113.09,707.32Q1111.51,708.06 1109.93,707.32ZM1055.11,594.08Q1055.11,592.62 1057.65,592.62Q1060.20,592.62 1060.20,594.08L1059.38,597.35Q1057.65,598.17 1055.92,597.35ZM1061.50,603.87Q1061.50,602.43 1064.03,602.43Q1066.56,602.43 1066.56,603.87L1065.75,607.12Q1064.03,607.93 1062.32,607.12ZM1067.80,613.51Q1067.80,612.08 1070.31,612.08Q1072.82,612.08 1072.82,613.51L1072.01,616.74Q1070.31,617.54 1068.61,616.74ZM1074.00,623.00Q1074.00,621.57 1076.49,621.57Q1078.98,621.57 1078.98,623.00L1078.18,626.20Q1076.49,627.00 1074.80,626.20ZM1080.10,632.33Q1080.10,630.92 1082.57,630.92Q1085.04,630.92 1085.04,632.33L1084.25,635.51Q1082.57,636.31 1080.89,635.51ZM1086.10,641.53Q1086.10,640.12 1088.56,640.12Q1091.01,640.12 1091.01,641.53L1090.22,644.68Q1088.56,645.47 1086.89,644.68ZM1092.01,650.58Q1092.01,649.18 1094.45,649.18Q1096.89,649.18 1096.89,650.58L1096.10,653.71Q1094.45,654.49 1092.80,653.71ZM1097.84,659.49Q1097.84,658.11 1100.26,658.11Q1102.67,658.11 1102.67,659.49L1101.90,662.60Q1100.26,663.38 1098.61,662.60ZM1103.57,668.27Q1103.57,666.89 1105.97,666.89Q1108.37,666.89 1108.37,668.27L1107.60,671.35Q1105.97,672.13 1104.34,671.35ZM1109.22,676.91Q1109.22,675.55 1111.60,675.55Q1113.99,675.55 1113.99,676.91L1113.22,679.98Q1111.60,680.75 1109.98,679.98ZM1114.78,685.43Q1114.78,684.07 1117.15,684.07Q1119.52,684.07 1119.52,685.43L1118.76,688.47Q1117.15,689.23 1115.54,688.47ZM1120.26,693.82Q1120.26,692.47 1122.61,692.47Q1124.97,692.47 1124.97,693.82L1124.21,696.84Q1122.61,697.60 1121.02,696.84ZM1125.66,702.08Q1125.66,700.75 1128.00,700.75Q1130.33,700.75 1130.33,702.08L1129.58,705.09Q1128.00,705.84 1126.41,705.09ZM1073.10,591.38Q1073.10,589.92 1075.66,589.92Q1078.22,589.92 1078.22,591.38L1077.39,594.67Q1075.66,595.49 1073.92,594.67ZM1079.37,601.21Q1079.37,599.76 1081.91,599.76Q1084.44,599.76 1084.44,601.21L1083.63,604.48Q1081.91,605.29 1080.18,604.48ZM1085.53,610.89Q1085.53,609.45 1088.05,609.45Q1090.57,609.45 1090.57,610.89L1089.76,614.13Q1088.05,614.94 1086.34,614.13ZM1091.60,620.42Q1091.60,618.99 1094.10,618.99Q1096.61,618.99 1096.61,620.42L1095.80,623.63Q1094.10,624.44 1092.41,623.63ZM1097.58,629.80Q1097.58,628.38 1100.06,628.38Q1102.54,628.38 1102.54,629.80L1101.75,632.99Q1100.06,633.79 1098.38,632.99ZM1103.46,639.03Q1103.46,637.62 1105.92,637.62Q1108.39,637.62 1108.39,639.03L1107.60,642.20Q1105.92,642.99 1104.25,642.20ZM1109.25,648.12Q1109.25,646.72 1111.70,646.72Q1114.14,646.72 1114.14,648.12L1113.36,651.26Q1111.70,652.05 1110.04,651.26ZM1114.95,657.07Q1114.95,655.68 1117.38,655.68Q1119.81,655.68 1119.81,657.07L1119.03,660.19Q1117.38,660.97 1115.73,660.19ZM1120.57,665.88Q1120.57,664.50 1122.98,664.50Q1125.39,664.50 1125.39,665.88L1124.62,668.98Q1122.98,669.76 1121.34,668.98ZM1126.10,674.56Q1126.10,673.19 1128.49,673.19Q1130.89,673.19 1130.89,674.56L1130.12,677.64Q1128.49,678.41 1126.87,677.64ZM1131.55,683.11Q1131.55,681.75 1133.93,681.75Q1136.30,681.75 1136.30,683.11L1135.54,686.17Q1133.93,686.93 1132.31,686.17ZM1136.91,691.53Q1136.91,690.18 1139.28,690.18Q1141.64,690.18 1141.64,691.53L1140.88,694.57Q1139.28,695.33 1137.67,694.57ZM1142.20,699.83Q1142.20,698.49 1144.55,698.49Q1146.89,698.49 1146.89,699.83L1146.14,702.85Q1144.55,703.60 1142.96,702.85ZM1091.17,588.66Q1091.17,587.20 1093.74,587.20Q1096.31,587.20 1096.31,588.66L1095.48,591.97Q1093.74,592.79 1092.00,591.97ZM1097.31,598.54Q1097.31,597.09 1099.86,597.09Q1102.41,597.09 1102.41,598.54L1101.59,601.82Q1099.86,602.64 1098.13,601.82ZM1103.35,608.26Q1103.35,606.82 1105.87,606.82Q1108.40,606.82 1108.40,608.26L1107.59,611.52Q1105.87,612.33 1104.16,611.52ZM1109.29,617.83Q1109.29,616.40 1111.80,616.40Q1114.31,616.40 1114.31,617.83L1113.50,621.06Q1111.80,621.87 1110.09,621.06ZM1115.13,627.25Q1115.13,625.82 1117.63,625.82Q1120.12,625.82 1120.12,627.25L1119.32,630.45Q1117.63,631.26 1115.94,630.45ZM1120.89,636.52Q1120.89,635.11 1123.37,635.11Q1125.84,635.11 1125.84,636.52L1125.05,639.70Q1123.37,640.50 1121.69,639.70ZM1126.56,645.65Q1126.56,644.24 1129.02,644.24Q1131.47,644.24 1131.47,645.65L1130.68,648.80Q1129.02,649.59 1127.35,648.80ZM1132.14,654.63Q1132.14,653.24 1134.58,653.24Q1137.02,653.24 1137.02,654.63L1136.23,657.77Q1134.58,658.55 1132.92,657.77ZM1137.64,663.48Q1137.64,662.10 1140.06,662.10Q1142.48,662.10 1142.48,663.48L1141.70,666.60Q1140.06,667.37 1138.41,666.60ZM1143.05,672.20Q1143.05,670.83 1145.45,670.83Q1147.86,670.83 1147.86,672.20L1147.08,675.29Q1145.45,676.06 1143.82,675.29ZM1148.38,680.78Q1148.38,679.42 1150.77,679.42Q1153.16,679.42 1153.16,680.78L1152.39,683.85Q1150.77,684.62 1149.15,683.85ZM1153.63,689.24Q1153.63,687.89 1156.00,687.89Q1158.37,687.89 1158.37,689.24L1157.61,692.29Q1156.00,693.05 1154.40,692.29ZM1158.81,697.57Q1158.81,696.23 1161.16,696.23Q1163.52,696.23 1163.52,697.57L1162.76,700.60Q1161.16,701.36 1159.56,700.60ZM1109.32,585.94Q1109.32,584.47 1111.90,584.47Q1114.48,584.47 1114.48,585.94L1113.65,589.26Q1111.90,590.09 1110.15,589.26ZM1115.33,595.86Q1115.33,594.40 1117.89,594.40Q1120.45,594.40 1120.45,595.86L1119.62,599.15Q1117.89,599.98 1116.15,599.15ZM1121.23,605.63Q1121.23,604.17 1123.77,604.17Q1126.31,604.17 1126.31,605.63L1125.50,608.89Q1123.77,609.71 1122.05,608.89ZM1127.04,615.23Q1127.04,613.79 1129.56,613.79Q1132.09,613.79 1132.09,615.23L1131.28,618.48Q1129.56,619.29 1127.85,618.48ZM1132.76,624.69Q1132.76,623.26 1135.27,623.26Q1137.77,623.26 1137.77,624.69L1136.97,627.91Q1135.27,628.71 1133.57,627.91ZM1138.39,634.00Q1138.39,632.58 1140.88,632.58Q1143.36,632.58 1143.36,634.00L1142.57,637.20Q1140.88,637.99 1139.19,637.20ZM1143.94,643.17Q1143.94,641.76 1146.41,641.76Q1148.87,641.76 1148.87,643.17L1148.08,646.34Q1146.41,647.13 1144.73,646.34ZM1149.40,652.19Q1149.40,650.79 1151.85,650.79Q1154.30,650.79 1154.30,652.19L1153.51,655.34Q1151.85,656.13 1150.18,655.34ZM1154.77,661.08Q1154.77,659.69 1157.20,659.69Q1159.64,659.69 1159.64,661.08L1158.85,664.20Q1157.20,664.98 1155.55,664.20ZM1160.07,669.83Q1160.07,668.45 1162.48,668.45Q1164.90,668.45 1164.90,669.83L1164.12,672.93Q1162.48,673.71 1160.84,672.93ZM1165.28,678.45Q1165.28,677.08 1167.68,677.08Q1170.08,677.08 1170.08,678.45L1169.30,681.53Q1167.68,682.30 1166.05,681.53ZM1170.42,686.94Q1170.42,685.58 1172.80,685.58Q1175.18,685.58 1175.18,686.94L1174.41,690.00Q1172.80,690.77 1171.18,690.00ZM1175.48,695.31Q1175.48,693.96 1177.84,693.96Q1180.21,693.96 1180.21,695.31L1179.45,698.35Q1177.84,699.11 1176.24,698.35ZM1127.55,583.20Q1127.55,581.72 1130.14,581.72Q1132.73,581.72 1132.73,583.20L1131.90,586.53Q1130.14,587.37 1128.39,586.53ZM1133.42,593.17Q1133.42,591.70 1135.99,591.70Q1138.56,591.70 1138.56,593.17L1137.74,596.47Q1135.99,597.30 1134.25,596.47ZM1139.19,602.98Q1139.19,601.52 1141.74,601.52Q1144.30,601.52 1144.30,602.98L1143.48,606.26Q1141.74,607.08 1140.01,606.26ZM1144.87,612.63Q1144.87,611.18 1147.41,611.18Q1149.94,611.18 1149.94,612.63L1149.13,615.88Q1147.41,616.69 1145.69,615.88ZM1150.47,622.12Q1150.47,620.69 1152.98,620.69Q1155.49,620.69 1155.49,622.12L1154.69,625.35Q1152.98,626.16 1151.27,625.35ZM1155.97,631.47Q1155.97,630.05 1158.47,630.05Q1160.96,630.05 1160.96,631.47L1160.16,634.68Q1158.47,635.48 1156.77,634.68ZM1166.73,649.74Q1166.73,648.33 1169.18,648.33Q1171.64,648.33 1171.64,649.74L1170.85,652.90Q1169.18,653.69 1167.52,652.90ZM1171.98,658.66Q1171.98,657.27 1174.42,657.27Q1176.86,657.27 1176.86,658.66L1176.08,661.80Q1174.42,662.58 1172.76,661.80ZM1177.15,667.45Q1177.15,666.06 1179.58,666.06Q1182.00,666.06 1182.00,667.45L1181.22,670.56Q1179.58,671.34 1177.93,670.56ZM1182.25,676.10Q1182.25,674.73 1184.66,674.73Q1187.06,674.73 1187.06,676.10L1186.29,679.20Q1184.66,679.97 1183.02,679.20ZM1187.27,684.63Q1187.27,683.26 1189.66,683.26Q1192.05,683.26 1192.05,684.63L1191.28,687.70Q1189.66,688.47 1188.04,687.70ZM1192.22,693.03Q1192.22,691.67 1194.59,691.67Q1196.96,691.67 1196.96,693.03L1196.20,696.08Q1194.59,696.84 1192.98,696.08ZM1145.86,580.46Q1145.86,578.97 1148.46,578.97Q1151.06,578.97 1151.06,580.46L1150.23,583.80Q1148.46,584.64 1146.70,583.80ZM1151.59,590.46Q1151.59,588.99 1154.17,588.99Q1156.76,588.99 1156.76,590.46L1155.93,593.78Q1154.17,594.61 1152.42,593.78ZM1157.23,600.31Q1157.23,598.85 1159.79,598.85Q1162.36,598.85 1162.36,600.31L1161.53,603.61Q1159.79,604.43 1158.06,603.61ZM1162.78,610.00Q1162.78,608.55 1165.33,608.55Q1167.87,608.55 1167.87,610.00L1167.05,613.27Q1165.33,614.09 1163.60,613.27ZM1168.24,619.54Q1168.24,618.10 1170.77,618.10Q1173.29,618.10 1173.29,619.54L1172.48,622.79Q1170.77,623.60 1169.06,622.79ZM1173.62,628.93Q1173.62,627.50 1176.13,627.50Q1178.63,627.50 1178.63,628.93L1177.83,632.15Q1176.13,632.96 1174.43,632.15ZM1178.91,638.17Q1178.91,636.75 1181.40,636.75Q1183.89,636.75 1183.89,638.17L1183.09,641.37Q1181.40,642.17 1179.71,641.37ZM1184.12,647.27Q1184.12,645.86 1186.59,645.86Q1189.06,645.86 1189.06,647.27L1188.27,650.45Q1186.59,651.24 1184.92,650.45ZM1189.26,656.23Q1189.26,654.83 1191.71,654.83Q1194.16,654.83 1194.16,656.23L1193.37,659.39Q1191.71,660.17 1190.04,659.39ZM1194.31,665.06Q1194.31,663.67 1196.74,663.67Q1199.18,663.67 1199.18,665.06L1198.39,668.19Q1196.74,668.97 1195.09,668.19ZM1199.29,673.75Q1199.29,672.37 1201.70,672.37Q1204.12,672.37 1204.12,673.75L1203.34,676.86Q1201.70,677.63 1200.06,676.86ZM1204.19,682.31Q1204.19,680.94 1206.59,680.94Q1208.99,680.94 1208.99,682.31L1208.22,685.39Q1206.59,686.17 1204.96,685.39ZM1209.02,690.74Q1209.02,689.38 1211.40,689.38Q1213.78,689.38 1213.78,690.74L1213.02,693.81Q1211.40,694.57 1209.78,693.81ZM1164.25,577.70Q1164.25,576.20 1166.86,576.20Q1169.47,576.20 1169.47,577.70L1168.63,581.06Q1166.86,581.90 1165.09,581.06ZM1169.84,587.75Q1169.84,586.27 1172.44,586.27Q1175.03,586.27 1175.03,587.75L1174.20,591.08Q1172.44,591.92 1170.68,591.08ZM1175.35,597.64Q1175.35,596.17 1177.92,596.17Q1180.49,596.17 1180.49,597.64L1179.67,600.95Q1177.92,601.78 1176.18,600.95ZM1180.77,607.37Q1180.77,605.91 1183.32,605.91Q1185.87,605.91 1185.87,607.37L1185.05,610.66Q1183.32,611.48 1181.59,610.66ZM1186.10,616.95Q1186.10,615.50 1188.63,615.50Q1191.17,615.50 1191.17,616.95L1190.35,620.21Q1188.63,621.03 1186.91,620.21ZM1191.34,626.38Q1191.34,624.94 1193.86,624.94Q1196.38,624.94 1196.38,626.38L1195.57,629.62Q1193.86,630.43 1192.15,629.62ZM1196.51,635.66Q1196.51,634.24 1199.01,634.24Q1201.50,634.24 1201.50,635.66L1200.70,638.87Q1199.01,639.68 1197.31,638.87ZM1201.59,644.80Q1201.59,643.38 1204.07,643.38Q1206.55,643.38 1206.55,644.80L1205.76,647.99Q1204.07,648.79 1202.39,647.99ZM1206.60,653.80Q1206.60,652.39 1209.06,652.39Q1211.52,652.39 1211.52,653.80L1210.73,656.96Q1209.06,657.75 1207.39,656.96ZM1211.53,662.66Q1211.53,661.26 1213.98,661.26Q1216.42,661.26 1216.42,662.66L1215.64,665.80Q1213.98,666.59 1212.32,665.80ZM1216.39,671.39Q1216.39,670.00 1218.82,670.00Q1221.24,670.00 1221.24,671.39L1220.46,674.50Q1218.82,675.28 1217.17,674.50ZM1221.17,679.98Q1221.17,678.60 1223.58,678.60Q1225.99,678.60 1225.99,679.98L1225.22,683.08Q1223.58,683.85 1221.95,683.08ZM1225.89,688.45Q1225.89,687.08 1228.28,687.08Q1230.67,687.08 1230.67,688.45L1229.90,691.52Q1228.28,692.29 1226.66,691.52ZM1182.72,574.92Q1182.72,573.42 1185.34,573.42Q1187.96,573.42 1187.96,574.92L1187.12,578.30Q1185.34,579.14 1183.56,578.30ZM1188.17,585.02Q1188.17,583.53 1190.78,583.53Q1193.38,583.53 1193.38,585.02L1192.54,588.37Q1190.78,589.21 1189.01,588.37ZM1193.54,594.96Q1193.54,593.48 1196.13,593.48Q1198.71,593.48 1198.71,594.96L1197.88,598.28Q1196.13,599.11 1194.37,598.28ZM1198.82,604.73Q1198.82,603.27 1201.39,603.27Q1203.95,603.27 1203.95,604.73L1203.13,608.03Q1201.39,608.85 1199.65,608.03ZM1204.02,614.35Q1204.02,612.90 1206.57,612.90Q1209.11,612.90 1209.11,614.35L1208.30,617.62Q1206.57,618.44 1204.84,617.62ZM1209.14,623.82Q1209.14,622.38 1211.67,622.38Q1214.19,622.38 1214.19,623.82L1213.38,627.07Q1211.67,627.88 1209.95,627.07ZM1214.18,633.14Q1214.18,631.71 1216.69,631.71Q1219.19,631.71 1219.19,633.14L1218.39,636.37Q1216.69,637.17 1214.98,636.37ZM1219.14,642.32Q1219.14,640.90 1221.63,640.90Q1224.12,640.90 1224.12,642.32L1223.32,645.52Q1221.63,646.32 1219.94,645.52ZM1224.02,651.35Q1224.02,649.94 1226.49,649.94Q1228.96,649.94 1228.96,651.35L1228.17,654.53Q1226.49,655.32 1224.81,654.53ZM1228.83,660.25Q1228.83,658.85 1231.28,658.85Q1233.74,658.85 1233.74,660.25L1232.95,663.40Q1231.28,664.19 1229.62,663.40ZM1233.56,669.01Q1233.56,667.62 1236.00,667.62Q1238.44,667.62 1238.44,669.01L1237.65,672.14Q1236.00,672.93 1234.35,672.14ZM1238.23,677.64Q1238.23,676.26 1240.65,676.26Q1243.06,676.26 1243.06,677.64L1242.29,680.75Q1240.65,681.53 1239.01,680.75ZM1242.82,686.14Q1242.82,684.77 1245.22,684.77Q1247.63,684.77 1247.63,686.14L1246.85,689.23Q1245.22,690.00 1243.59,689.23ZM1201.26,572.14Q1201.26,570.63 1203.90,570.63Q1206.54,570.63 1206.54,572.14L1205.69,575.53Q1203.90,576.38 1202.11,575.53ZM1206.58,582.28Q1206.58,580.79 1209.20,580.79Q1211.81,580.79 1211.81,582.28L1210.97,585.64Q1209.20,586.48 1207.42,585.64ZM1211.81,592.26Q1211.81,590.78 1214.41,590.78Q1217.00,590.78 1217.00,592.26L1216.17,595.60Q1214.41,596.43 1212.65,595.60ZM1216.96,602.08Q1216.96,600.61 1219.54,600.61Q1222.11,600.61 1222.11,602.08L1221.28,605.39Q1219.54,606.22 1217.79,605.39ZM1222.03,611.74Q1222.03,610.28 1224.58,610.28Q1227.14,610.28 1227.14,611.74L1226.32,615.03Q1224.58,615.85 1222.85,615.03ZM1227.01,621.25Q1227.01,619.80 1229.55,619.80Q1232.09,619.80 1232.09,621.25L1231.27,624.51Q1229.55,625.33 1227.83,624.51ZM1231.92,630.61Q1231.92,629.17 1234.44,629.17Q1236.96,629.17 1236.96,630.61L1236.15,633.85Q1234.44,634.66 1232.73,633.85ZM1236.75,639.82Q1236.75,638.40 1239.25,638.40Q1241.75,638.40 1241.75,639.82L1240.95,643.04Q1239.25,643.84 1237.56,643.04ZM1241.51,648.90Q1241.51,647.48 1243.99,647.48Q1246.47,647.48 1246.47,648.90L1245.67,652.09Q1243.99,652.88 1242.31,652.09ZM1246.19,657.83Q1246.19,656.42 1248.66,656.42Q1251.12,656.42 1251.12,657.83L1250.33,661.00Q1248.66,661.79 1246.99,661.00ZM1250.81,666.63Q1250.81,665.23 1253.25,665.23Q1255.70,665.23 1255.70,666.63L1254.91,669.77Q1253.25,670.56 1251.59,669.77ZM1255.35,675.30Q1255.35,673.91 1257.78,673.91Q1260.21,673.91 1260.21,675.30L1259.43,678.42Q1257.78,679.20 1256.13,678.42ZM1259.83,683.83Q1259.83,682.45 1262.24,682.45Q1264.65,682.45 1264.65,683.83L1263.87,686.93Q1262.24,687.71 1260.60,686.93ZM1219.89,569.34Q1219.89,567.83 1222.54,567.83Q1225.19,567.83 1225.19,569.34L1224.34,572.75Q1222.54,573.60 1220.74,572.75ZM1225.07,579.53Q1225.07,578.03 1227.70,578.03Q1230.32,578.03 1230.32,579.53L1229.48,582.91Q1227.70,583.75 1225.91,582.91ZM1230.16,589.55Q1230.16,588.06 1232.77,588.06Q1235.38,588.06 1235.38,589.55L1234.54,592.90Q1232.77,593.74 1231.00,592.90ZM1235.17,599.41Q1235.17,597.93 1237.76,597.93Q1240.35,597.93 1240.35,599.41L1239.52,602.74Q1237.76,603.57 1236.01,602.74ZM1240.11,609.12Q1240.11,607.65 1242.67,607.65Q1245.24,607.65 1245.24,609.12L1244.42,612.42Q1242.67,613.24 1240.93,612.42ZM1244.96,618.67Q1244.96,617.21 1247.51,617.21Q1250.06,617.21 1250.06,618.67L1249.24,621.94Q1247.51,622.76 1245.78,621.94ZM1249.74,628.07Q1249.74,626.62 1252.27,626.62Q1254.79,626.62 1254.79,628.07L1253.98,631.32Q1252.27,632.13 1250.55,631.32ZM1254.44,637.32Q1254.44,635.89 1256.95,635.89Q1259.46,635.89 1259.46,637.32L1258.65,640.55Q1256.95,641.35 1255.25,640.55ZM1259.07,646.43Q1259.07,645.01 1261.56,645.01Q1264.05,645.01 1264.05,646.43L1263.25,649.63Q1261.56,650.44 1259.87,649.63ZM1263.63,655.40Q1263.63,653.99 1266.10,653.99Q1268.58,653.99 1268.58,655.40L1267.78,658.58Q1266.10,659.38 1264.42,658.58ZM1268.12,664.24Q1268.12,662.83 1270.57,662.83Q1273.03,662.83 1273.03,664.24L1272.24,667.39Q1270.57,668.18 1268.91,667.39ZM1272.54,672.94Q1272.54,671.55 1274.98,671.55Q1277.42,671.55 1277.42,672.94L1276.63,676.07Q1274.98,676.86 1273.32,676.07ZM1276.90,681.51Q1276.90,680.13 1279.32,680.13Q1281.74,680.13 1281.74,681.51L1280.96,684.62Q1279.32,685.40 1277.68,684.62ZM1238.60,566.53Q1238.60,565.01 1241.26,565.01Q1243.92,565.01 1243.92,566.53L1243.07,569.95Q1241.26,570.81 1239.46,569.95ZM1243.64,576.77Q1243.64,575.26 1246.28,575.26Q1248.92,575.26 1248.92,576.77L1248.07,580.16Q1246.28,581.01 1244.49,580.16ZM1248.59,586.83Q1248.59,585.34 1251.21,585.34Q1253.83,585.34 1253.83,586.83L1252.99,590.20Q1251.21,591.04 1249.43,590.20ZM1253.47,596.74Q1253.47,595.25 1256.06,595.25Q1258.66,595.25 1258.66,596.74L1257.83,600.08Q1256.06,600.91 1254.30,600.08ZM1258.26,606.48Q1258.26,605.01 1260.84,605.01Q1263.42,605.01 1263.42,606.48L1262.59,609.80Q1260.84,610.62 1259.09,609.80ZM1262.98,616.07Q1262.98,614.61 1265.54,614.61Q1268.10,614.61 1268.10,616.07L1267.28,619.36Q1265.54,620.18 1263.80,619.36ZM1267.63,625.51Q1267.63,624.06 1270.17,624.06Q1272.71,624.06 1272.71,625.51L1271.89,628.78Q1270.17,629.59 1268.44,628.78ZM1272.20,634.81Q1272.20,633.37 1274.72,633.37Q1277.24,633.37 1277.24,634.81L1276.43,638.05Q1274.72,638.86 1273.01,638.05ZM1276.70,643.95Q1276.70,642.53 1279.20,642.53Q1281.71,642.53 1281.71,643.95L1280.90,647.17Q1279.20,647.98 1277.51,647.17ZM1281.14,652.96Q1281.14,651.54 1283.62,651.54Q1286.10,651.54 1286.10,652.96L1285.30,656.16Q1283.62,656.95 1281.93,656.16ZM1285.50,661.83Q1285.50,660.43 1287.97,660.43Q1290.43,660.43 1290.43,661.83L1289.64,665.00Q1287.97,665.80 1286.29,665.00ZM1289.80,670.57Q1289.80,669.17 1292.25,669.17Q1294.70,669.17 1294.70,670.57L1293.91,673.72Q1292.25,674.51 1290.59,673.72ZM1294.04,679.18Q1294.04,677.79 1296.47,677.79Q1298.90,677.79 1298.90,679.18L1298.12,682.30Q1296.47,683.08 1294.82,682.30ZM1281.00,560.17Q1281.00,558.63 1283.69,558.63Q1286.38,558.63 1286.38,560.17L1285.51,563.62Q1283.69,564.49 1281.87,563.62ZM1285.72,570.50Q1285.72,568.98 1288.38,568.98Q1291.04,568.98 1291.04,570.50L1290.19,573.93Q1288.38,574.79 1286.57,573.93ZM1290.35,580.67Q1290.35,579.16 1292.99,579.16Q1295.64,579.16 1295.64,580.67L1294.79,584.07Q1292.99,584.92 1291.20,584.07ZM1294.91,590.67Q1294.91,589.17 1297.53,589.17Q1300.16,589.17 1300.16,590.67L1299.31,594.04Q1297.53,594.89 1295.75,594.04ZM1299.40,600.51Q1299.40,599.03 1302.00,599.03Q1304.60,599.03 1304.60,600.51L1303.77,603.86Q1302.00,604.70 1300.23,603.86ZM1303.81,610.20Q1303.81,608.72 1306.39,608.72Q1308.98,608.72 1308.98,610.20L1308.15,613.52Q1306.39,614.35 1304.64,613.52ZM1308.16,619.73Q1308.16,618.26 1310.72,618.26Q1313.28,618.26 1313.28,619.73L1312.46,623.02Q1310.72,623.85 1308.98,623.02ZM1312.43,629.11Q1312.43,627.66 1314.98,627.66Q1317.52,627.66 1317.52,629.11L1316.70,632.38Q1314.98,633.20 1313.25,632.38ZM1316.64,638.35Q1316.64,636.90 1319.17,636.90Q1321.69,636.90 1321.69,638.35L1320.88,641.59Q1319.17,642.40 1317.45,641.59ZM1320.79,647.44Q1320.79,646.01 1323.30,646.01Q1325.80,646.01 1325.80,647.44L1325.00,650.66Q1323.30,651.47 1321.59,650.66ZM1324.87,656.39Q1324.87,654.97 1327.36,654.97Q1329.85,654.97 1329.85,656.39L1329.05,659.59Q1327.36,660.39 1325.67,659.59ZM1328.89,665.21Q1328.89,663.80 1331.36,663.80Q1333.83,663.80 1333.83,665.21L1333.04,668.39Q1331.36,669.18 1329.68,668.39ZM1332.85,673.90Q1332.85,672.50 1335.30,672.50Q1337.75,672.50 1337.75,673.90L1336.97,677.05Q1335.30,677.84 1333.64,677.05ZM1299.98,557.32Q1299.98,555.78 1302.68,555.78Q1305.38,555.78 1305.38,557.32L1304.51,560.79Q1302.68,561.65 1300.85,560.79ZM1304.55,567.70Q1304.55,566.17 1307.23,566.17Q1309.90,566.17 1309.90,567.70L1309.04,571.14Q1307.23,572.00 1305.41,571.14ZM1309.04,577.91Q1309.04,576.39 1311.70,576.39Q1314.35,576.39 1314.35,577.91L1313.50,581.33Q1311.70,582.18 1309.89,581.33ZM1313.46,587.96Q1313.46,586.45 1316.09,586.45Q1318.73,586.45 1318.73,587.96L1317.88,591.34Q1316.09,592.19 1314.30,591.34ZM1317.80,597.84Q1317.80,596.35 1320.42,596.35Q1323.03,596.35 1323.03,597.84L1322.19,601.20Q1320.42,602.04 1318.64,601.20ZM1322.08,607.57Q1322.08,606.09 1324.68,606.09Q1327.27,606.09 1327.27,607.57L1326.44,610.90Q1324.68,611.74 1322.92,610.90ZM1326.29,617.14Q1326.29,615.67 1328.87,615.67Q1331.44,615.67 1331.44,617.14L1330.61,620.45Q1328.87,621.28 1327.12,620.45ZM1330.43,626.56Q1330.43,625.10 1332.99,625.10Q1335.54,625.10 1335.54,626.56L1334.72,629.85Q1332.99,630.67 1331.26,629.85ZM1334.51,635.84Q1334.51,634.39 1337.05,634.39Q1339.59,634.39 1339.59,635.84L1338.77,639.10Q1337.05,639.91 1335.33,639.10ZM1338.53,644.97Q1338.53,643.53 1341.05,643.53Q1343.56,643.53 1343.56,644.97L1342.75,648.20Q1341.05,649.01 1339.34,648.20ZM1342.48,653.96Q1342.48,652.53 1344.98,652.53Q1347.48,652.53 1347.48,653.96L1346.68,657.17Q1344.98,657.97 1343.29,657.17ZM1346.38,662.81Q1346.38,661.40 1348.86,661.40Q1351.34,661.40 1351.34,662.81L1350.54,666.00Q1348.86,666.80 1347.17,666.00ZM1350.21,671.53Q1350.21,670.13 1352.67,670.13Q1355.14,670.13 1355.14,671.53L1354.35,674.70Q1352.67,675.49 1351.00,674.70ZM1319.05,554.46Q1319.05,552.91 1321.76,552.91Q1324.47,552.91 1324.47,554.46L1323.60,557.94Q1321.76,558.81 1319.92,557.94ZM1323.47,564.89Q1323.47,563.35 1326.15,563.35Q1328.84,563.35 1328.84,564.89L1327.98,568.34Q1326.15,569.21 1324.33,568.34ZM1327.81,575.14Q1327.81,573.62 1330.48,573.62Q1333.14,573.62 1333.14,575.14L1332.29,578.57Q1330.48,579.43 1328.67,578.57ZM1332.09,585.23Q1332.09,583.72 1334.73,583.72Q1337.38,583.72 1337.38,585.23L1336.53,588.63Q1334.73,589.48 1332.94,588.63ZM1336.29,595.16Q1336.29,593.66 1338.92,593.66Q1341.54,593.66 1341.54,595.16L1340.70,598.53Q1338.92,599.38 1337.14,598.53ZM1340.43,604.93Q1340.43,603.44 1343.04,603.44Q1345.64,603.44 1345.64,604.93L1344.80,608.28Q1343.04,609.11 1341.27,608.28ZM1344.50,614.54Q1344.50,613.06 1347.09,613.06Q1349.67,613.06 1349.67,614.54L1348.84,617.86Q1347.09,618.70 1345.33,617.86ZM1348.51,624.00Q1348.51,622.54 1351.08,622.54Q1353.64,622.54 1353.64,624.00L1352.82,627.30Q1351.08,628.13 1349.34,627.30ZM1352.46,633.32Q1352.46,631.86 1355.00,631.86Q1357.55,631.86 1357.55,633.32L1356.73,636.59Q1355.00,637.41 1353.28,636.59ZM1356.34,642.49Q1356.34,641.04 1358.87,641.04Q1361.40,641.04 1361.40,642.49L1360.59,645.74Q1358.87,646.55 1357.16,645.74ZM1360.17,651.52Q1360.17,650.08 1362.68,650.08Q1365.19,650.08 1365.19,651.52L1364.38,654.74Q1362.68,655.55 1360.98,654.74ZM1363.94,660.41Q1363.94,658.98 1366.43,658.98Q1368.92,658.98 1368.92,660.41L1368.12,663.61Q1366.43,664.41 1364.74,663.61ZM1367.65,669.16Q1367.65,667.75 1370.12,667.75Q1372.59,667.75 1372.59,669.16L1371.79,672.34Q1370.12,673.14 1368.44,672.34ZM1338.20,551.58Q1338.20,550.03 1340.92,550.03Q1343.64,550.03 1343.64,551.58L1342.77,555.08Q1340.92,555.96 1339.07,555.08ZM1342.47,562.06Q1342.47,560.52 1345.17,560.52Q1347.87,560.52 1347.87,562.06L1347.00,565.53Q1345.17,566.40 1343.33,565.53ZM1346.66,572.36Q1346.66,570.83 1349.34,570.83Q1352.02,570.83 1352.02,572.36L1351.16,575.80Q1349.34,576.66 1347.53,575.80ZM1350.80,582.49Q1350.80,580.98 1353.45,580.98Q1356.11,580.98 1356.11,582.49L1355.26,585.91Q1353.45,586.76 1351.65,585.91ZM1354.86,592.46Q1354.86,590.96 1357.50,590.96Q1360.13,590.96 1360.13,592.46L1359.28,595.85Q1357.50,596.70 1355.71,595.85ZM1358.86,602.28Q1358.86,600.78 1361.47,600.78Q1364.09,600.78 1364.09,602.28L1363.25,605.64Q1361.47,606.48 1359.70,605.64ZM1362.79,611.93Q1362.79,610.45 1365.39,610.45Q1367.98,610.45 1367.98,611.93L1367.15,615.27Q1365.39,616.10 1363.63,615.27ZM1366.67,621.43Q1366.67,619.96 1369.24,619.96Q1371.82,619.96 1371.82,621.43L1370.99,624.74Q1369.24,625.57 1367.49,624.74ZM1370.48,630.79Q1370.48,629.33 1373.03,629.33Q1375.59,629.33 1375.59,630.79L1374.77,634.07Q1373.03,634.90 1371.30,634.07ZM1374.23,639.99Q1374.23,638.54 1376.77,638.54Q1379.31,638.54 1379.31,639.99L1378.49,643.26Q1376.77,644.07 1375.05,643.26ZM1377.93,649.06Q1377.93,647.62 1380.45,647.62Q1382.96,647.62 1382.96,649.06L1382.15,652.30Q1380.45,653.11 1378.74,652.30ZM1381.57,657.99Q1381.57,656.56 1384.07,656.56Q1386.57,656.56 1386.57,657.99L1385.76,661.20Q1384.07,662.01 1382.37,661.20ZM1385.15,666.78Q1385.15,665.36 1387.63,665.36Q1390.11,665.36 1390.11,666.78L1389.31,669.97Q1387.63,670.77 1385.95,669.97ZM1357.43,548.70Q1357.43,547.13 1360.16,547.13Q1362.90,547.13 1362.90,548.70L1362.02,552.21Q1360.16,553.09 1358.31,552.21ZM1361.55,559.22Q1361.55,557.67 1364.26,557.67Q1366.97,557.67 1366.97,559.22L1366.10,562.70Q1364.26,563.58 1362.42,562.70ZM1365.60,569.57Q1365.60,568.03 1368.29,568.03Q1370.98,568.03 1370.98,569.57L1370.12,573.02Q1368.29,573.89 1366.46,573.02ZM1369.59,579.74Q1369.59,578.22 1372.25,578.22Q1374.92,578.22 1374.92,579.74L1374.06,583.18Q1372.25,584.03 1370.44,583.18ZM1373.51,589.76Q1373.51,588.25 1376.15,588.25Q1378.80,588.25 1378.80,589.76L1377.95,593.16Q1376.15,594.01 1374.36,593.16ZM1377.36,599.61Q1377.36,598.11 1379.99,598.11Q1382.62,598.11 1382.62,599.61L1381.77,602.99Q1379.99,603.83 1378.21,602.99ZM1381.16,609.31Q1381.16,607.82 1383.77,607.82Q1386.37,607.82 1386.37,609.31L1385.54,612.66Q1383.77,613.50 1382.00,612.66ZM1384.89,618.85Q1384.89,617.37 1387.48,617.37Q1390.07,617.37 1390.07,618.85L1389.24,622.18Q1387.48,623.01 1385.73,622.18ZM1388.57,628.25Q1388.57,626.78 1391.14,626.78Q1393.71,626.78 1393.71,628.25L1392.88,631.55Q1391.14,632.37 1389.40,631.55ZM1392.19,637.49Q1392.19,636.04 1394.74,636.04Q1397.29,636.04 1397.29,637.49L1396.47,640.77Q1394.74,641.59 1393.01,640.77ZM1395.76,646.60Q1395.76,645.15 1398.29,645.15Q1400.81,645.15 1400.81,646.60L1400.00,649.85Q1398.29,650.66 1396.57,649.85ZM1399.27,655.56Q1399.27,654.13 1401.78,654.13Q1404.29,654.13 1404.29,655.56L1403.48,658.79Q1401.78,659.60 1400.07,658.79ZM1402.72,664.39Q1402.72,662.97 1405.21,662.97Q1407.71,662.97 1407.71,664.39L1406.91,667.59Q1405.21,668.40 1403.52,667.59ZM1376.75,545.80Q1376.75,544.23 1379.50,544.23Q1382.24,544.23 1382.24,545.80L1381.36,549.33Q1379.50,550.21 1377.63,549.33ZM1380.72,556.36Q1380.72,554.81 1383.44,554.81Q1386.16,554.81 1386.16,556.36L1385.29,559.87Q1383.44,560.74 1381.59,559.87ZM1384.62,566.76Q1384.62,565.22 1387.32,565.22Q1390.02,565.22 1390.02,566.76L1389.15,570.23Q1387.32,571.10 1385.49,570.23ZM1388.46,576.98Q1388.46,575.45 1391.14,575.45Q1393.82,575.45 1393.82,576.98L1392.96,580.43Q1391.14,581.29 1389.32,580.43ZM1392.23,587.04Q1392.23,585.52 1394.89,585.52Q1397.55,585.52 1397.55,587.04L1396.70,590.46Q1394.89,591.32 1393.09,590.46ZM1395.95,596.94Q1395.95,595.43 1398.59,595.43Q1401.22,595.43 1401.22,596.94L1400.38,600.33Q1398.59,601.18 1396.80,600.33ZM1399.60,606.68Q1399.60,605.18 1402.22,605.18Q1404.84,605.18 1404.84,606.68L1404.00,610.04Q1402.22,610.88 1400.44,610.04ZM1403.20,616.26Q1403.20,614.78 1405.80,614.78Q1408.40,614.78 1408.40,616.26L1407.56,619.60Q1405.80,620.44 1404.04,619.60ZM1406.74,625.69Q1406.74,624.22 1409.32,624.22Q1411.90,624.22 1411.90,625.69L1411.07,629.01Q1409.32,629.84 1407.57,629.01ZM1410.23,634.98Q1410.23,633.52 1412.79,633.52Q1415.35,633.52 1415.35,634.98L1414.52,638.27Q1412.79,639.09 1411.05,638.27ZM1413.66,644.12Q1413.66,642.67 1416.20,642.67Q1418.74,642.67 1418.74,644.12L1417.92,647.39Q1416.20,648.20 1414.48,647.39ZM1417.04,653.12Q1417.04,651.68 1419.56,651.68Q1422.08,651.68 1422.08,653.12L1421.27,656.37Q1419.56,657.18 1417.85,656.37ZM1420.37,661.99Q1420.37,660.56 1422.87,660.56Q1425.37,660.56 1425.37,661.99L1424.57,665.21Q1422.87,666.01 1421.17,665.21ZM1396.16,542.88Q1396.16,541.31 1398.91,541.31Q1401.67,541.31 1401.67,542.88L1400.78,546.43Q1398.91,547.32 1397.04,546.43ZM1399.97,553.50Q1399.97,551.94 1402.71,551.94Q1405.44,551.94 1405.44,553.50L1404.56,557.02Q1402.71,557.90 1400.85,557.02ZM1403.72,563.94Q1403.72,562.39 1406.43,562.39Q1409.15,562.39 1409.15,563.94L1408.28,567.43Q1406.43,568.30 1404.59,567.43ZM1407.41,574.21Q1407.41,572.67 1410.10,572.67Q1412.79,572.67 1412.79,574.21L1411.93,577.67Q1410.10,578.54 1408.28,577.67ZM1411.04,584.31Q1411.04,582.79 1413.71,582.79Q1416.38,582.79 1416.38,584.31L1415.52,587.75Q1413.71,588.60 1411.90,587.75ZM1414.61,594.25Q1414.61,592.74 1417.26,592.74Q1419.91,592.74 1419.91,594.25L1419.06,597.66Q1417.26,598.51 1415.46,597.66ZM1421.58,613.66Q1421.58,612.17 1424.19,612.17Q1426.80,612.17 1426.80,613.66L1425.96,617.01Q1424.19,617.85 1422.42,617.01ZM1424.99,623.13Q1424.99,621.65 1427.58,621.65Q1430.17,621.65 1430.17,623.13L1429.33,626.46Q1427.58,627.29 1425.82,626.46ZM1428.34,632.46Q1428.34,630.99 1430.91,630.99Q1433.48,630.99 1433.48,632.46L1432.65,635.76Q1430.91,636.59 1429.16,635.76ZM1431.64,641.64Q1431.64,640.18 1434.19,640.18Q1436.74,640.18 1436.74,641.64L1435.92,644.92Q1434.19,645.74 1432.46,644.92ZM1434.89,650.68Q1434.89,649.23 1437.42,649.23Q1439.95,649.23 1439.95,650.68L1439.13,653.93Q1437.42,654.75 1435.70,653.93ZM1438.08,659.58Q1438.08,658.14 1440.60,658.14Q1443.11,658.14 1443.11,659.58L1442.30,662.81Q1440.60,663.62 1438.89,662.81ZM1415.65,539.96Q1415.65,538.37 1418.42,538.37Q1421.19,538.37 1421.19,539.96L1420.30,543.52Q1418.42,544.41 1416.54,543.52ZM1419.31,550.62Q1419.31,549.05 1422.06,549.05Q1424.80,549.05 1424.80,550.62L1423.92,554.15Q1422.06,555.04 1420.19,554.15ZM1422.91,561.11Q1422.91,559.55 1425.63,559.55Q1428.36,559.55 1428.36,561.11L1427.48,564.61Q1425.63,565.49 1423.78,564.61ZM1426.45,571.42Q1426.45,569.88 1429.15,569.88Q1431.85,569.88 1431.85,571.42L1430.99,574.90Q1429.15,575.77 1427.32,574.90ZM1429.93,581.57Q1429.93,580.04 1432.61,580.04Q1435.29,580.04 1435.29,581.57L1434.43,585.02Q1432.61,585.88 1430.79,585.02ZM1433.36,591.55Q1433.36,590.03 1436.02,590.03Q1438.68,590.03 1438.68,591.55L1437.82,594.98Q1436.02,595.83 1434.21,594.98ZM1436.73,601.38Q1436.73,599.87 1439.37,599.87Q1442.01,599.87 1442.01,601.38L1441.16,604.77Q1439.37,605.62 1437.58,604.77ZM1440.05,611.04Q1440.05,609.55 1442.67,609.55Q1445.29,609.55 1445.29,611.04L1444.44,614.41Q1442.67,615.25 1440.89,614.41ZM1443.31,620.56Q1443.31,619.07 1445.91,619.07Q1448.51,619.07 1448.51,620.56L1447.67,623.90Q1445.91,624.74 1444.15,623.90ZM1446.52,629.92Q1446.52,628.45 1449.10,628.45Q1451.68,628.45 1451.68,629.92L1450.86,633.24Q1449.10,634.07 1447.35,633.24ZM1449.69,639.14Q1449.69,637.68 1452.25,637.68Q1454.81,637.68 1454.81,639.14L1453.99,642.44Q1452.25,643.26 1450.51,642.44ZM1452.80,648.22Q1452.80,646.77 1455.35,646.77Q1457.89,646.77 1457.89,648.22L1457.07,651.49Q1455.35,652.30 1453.62,651.49ZM1455.87,657.16Q1455.87,655.72 1458.39,655.72Q1460.92,655.72 1460.92,657.16L1460.11,660.40Q1458.39,661.21 1456.68,660.40ZM1435.23,537.02Q1435.23,535.43 1438.01,535.43Q1440.79,535.43 1440.79,537.02L1439.90,540.60Q1438.01,541.49 1436.12,540.60ZM1438.73,547.73Q1438.73,546.15 1441.49,546.15Q1444.25,546.15 1444.25,547.73L1443.36,551.28Q1441.49,552.17 1439.62,551.28ZM1442.18,558.26Q1442.18,556.70 1444.91,556.70Q1447.65,556.70 1447.65,558.26L1446.77,561.78Q1444.91,562.66 1443.06,561.78ZM1445.57,568.63Q1445.57,567.07 1448.28,567.07Q1451.00,567.07 1451.00,568.63L1450.13,572.12Q1448.28,572.99 1446.44,572.12ZM1448.90,578.82Q1448.90,577.28 1451.59,577.28Q1454.29,577.28 1454.29,578.82L1453.42,582.28Q1451.59,583.15 1449.77,582.28ZM1452.18,588.85Q1452.18,587.32 1454.85,587.32Q1457.53,587.32 1457.53,588.85L1456.67,592.28Q1454.85,593.14 1453.04,592.28ZM1455.41,598.71Q1455.41,597.20 1458.06,597.20Q1460.71,597.20 1460.71,598.71L1459.86,602.12Q1458.06,602.97 1456.26,602.12ZM1458.58,608.42Q1458.58,606.92 1461.22,606.92Q1463.85,606.92 1463.85,608.42L1463.00,611.80Q1461.22,612.65 1459.43,611.80ZM1461.71,617.97Q1461.71,616.48 1464.32,616.48Q1466.93,616.48 1466.93,617.97L1466.09,621.33Q1464.32,622.17 1462.55,621.33ZM1464.79,627.38Q1464.79,625.90 1467.38,625.90Q1469.97,625.90 1469.97,627.38L1469.14,630.71Q1467.38,631.54 1465.62,630.71ZM1467.82,636.64Q1467.82,635.17 1470.39,635.17Q1472.96,635.17 1472.96,636.64L1472.13,639.94Q1470.39,640.77 1468.64,639.94ZM1470.80,645.75Q1470.80,644.30 1473.35,644.30Q1475.90,644.30 1475.90,645.75L1475.08,649.03Q1473.35,649.85 1471.62,649.03ZM1473.73,654.73Q1473.73,653.28 1476.27,653.28Q1478.80,653.28 1478.80,654.73L1477.98,657.99Q1476.27,658.80 1474.55,657.99ZM1454.89,534.07Q1454.89,532.47 1457.69,532.47Q1460.48,532.47 1460.48,534.07L1459.59,537.66Q1457.69,538.56 1455.79,537.66ZM1458.24,544.83Q1458.24,543.24 1461.01,543.24Q1463.79,543.24 1463.79,544.83L1462.90,548.39Q1461.01,549.28 1459.13,548.39ZM1461.53,555.41Q1461.53,553.84 1464.28,553.84Q1467.03,553.84 1467.03,555.41L1466.15,558.94Q1464.28,559.83 1462.42,558.94ZM1464.77,565.82Q1464.77,564.26 1467.50,564.26Q1470.23,564.26 1470.23,565.82L1469.35,569.32Q1467.50,570.20 1465.65,569.32ZM1467.95,576.05Q1467.95,574.51 1470.66,574.51Q1473.37,574.51 1473.37,576.05L1472.50,579.53Q1470.66,580.40 1468.82,579.53ZM1471.09,586.12Q1471.09,584.59 1473.77,584.59Q1476.46,584.59 1476.46,586.12L1475.59,589.58Q1473.77,590.44 1471.95,589.58ZM1474.17,596.03Q1474.17,594.51 1476.83,594.51Q1479.50,594.51 1479.50,596.03L1478.64,599.46Q1476.83,600.31 1475.02,599.46ZM1477.20,605.78Q1477.20,604.27 1479.84,604.27Q1482.49,604.27 1482.49,605.78L1481.64,609.18Q1479.84,610.03 1478.05,609.18ZM1480.19,615.38Q1480.19,613.88 1482.81,613.88Q1485.43,613.88 1485.43,615.38L1484.59,618.75Q1482.81,619.59 1481.03,618.75ZM1483.12,624.82Q1483.12,623.34 1485.73,623.34Q1488.33,623.34 1488.33,624.82L1487.49,628.17Q1485.73,629.01 1483.96,628.17ZM1486.02,634.12Q1486.02,632.65 1488.60,632.65Q1491.18,632.65 1491.18,634.12L1490.35,637.44Q1488.60,638.27 1486.85,637.44ZM1488.86,643.28Q1488.86,641.81 1491.43,641.81Q1493.99,641.81 1493.99,643.28L1493.16,646.57Q1491.43,647.39 1489.69,646.57ZM1491.67,652.29Q1491.67,650.84 1494.21,650.84Q1496.75,650.84 1496.75,652.29L1495.94,655.56Q1494.21,656.38 1492.48,655.56ZM1474.65,531.10Q1474.65,529.49 1477.46,529.49Q1480.27,529.49 1480.27,531.10L1479.36,534.71Q1477.46,535.61 1475.55,534.71ZM1477.84,541.91Q1477.84,540.32 1480.62,540.32Q1483.41,540.32 1483.41,541.91L1482.51,545.49Q1480.62,546.39 1478.73,545.49ZM1480.97,552.54Q1480.97,550.96 1483.74,550.96Q1486.50,550.96 1486.50,552.54L1485.61,556.09Q1483.74,556.98 1481.86,556.09ZM1484.06,562.99Q1484.06,561.43 1486.80,561.43Q1489.54,561.43 1489.54,562.99L1488.66,566.52Q1486.80,567.40 1484.94,566.52ZM1487.09,573.28Q1487.09,571.72 1489.81,571.72Q1492.53,571.72 1492.53,573.28L1491.65,576.77Q1489.81,577.64 1487.96,576.77ZM1490.07,583.39Q1490.07,581.85 1492.77,581.85Q1495.47,581.85 1495.47,583.39L1494.60,586.86Q1492.77,587.72 1490.94,586.86ZM1493.01,593.34Q1493.01,591.82 1495.68,591.82Q1498.36,591.82 1498.36,593.34L1497.50,596.78Q1495.68,597.64 1493.87,596.78ZM1495.90,603.14Q1495.90,601.62 1498.55,601.62Q1501.21,601.62 1501.21,603.14L1500.35,606.55Q1498.55,607.40 1496.75,606.55ZM1498.74,612.77Q1498.74,611.27 1501.37,611.27Q1504.01,611.27 1504.01,612.77L1503.16,616.16Q1501.37,617.01 1499.59,616.16ZM1501.54,622.26Q1501.54,620.77 1504.15,620.77Q1506.76,620.77 1506.76,622.26L1505.92,625.62Q1504.15,626.46 1502.38,625.62ZM1504.29,631.60Q1504.29,630.11 1506.89,630.11Q1509.48,630.11 1509.48,631.60L1508.64,634.93Q1506.89,635.76 1505.13,634.93ZM1507.00,640.79Q1507.00,639.32 1509.58,639.32Q1512.15,639.32 1512.15,640.79L1511.32,644.10Q1509.58,644.92 1507.83,644.10ZM1509.67,649.84Q1509.67,648.38 1512.23,648.38Q1514.78,648.38 1514.78,649.84L1513.96,653.12Q1512.23,653.94 1510.49,653.12ZM1494.50,528.12Q1494.50,526.51 1497.32,526.51Q1500.14,526.51 1500.14,528.12L1499.23,531.75Q1497.32,532.65 1495.40,531.75ZM1497.52,538.98Q1497.52,537.38 1500.32,537.38Q1503.12,537.38 1503.12,538.98L1502.22,542.58Q1500.32,543.48 1498.42,542.58ZM1500.50,549.66Q1500.50,548.07 1503.28,548.07Q1506.05,548.07 1506.05,549.66L1505.16,553.22Q1503.28,554.12 1501.39,553.22ZM1503.43,560.16Q1503.43,558.59 1506.18,558.59Q1508.93,558.59 1508.93,560.16L1508.05,563.70Q1506.18,564.58 1504.32,563.70ZM1506.31,570.49Q1506.31,568.93 1509.04,568.93Q1511.77,568.93 1511.77,570.49L1510.89,574.00Q1509.04,574.87 1507.19,574.00ZM1509.14,580.65Q1509.14,579.10 1511.85,579.10Q1514.56,579.10 1514.56,580.65L1513.69,584.13Q1511.85,585.00 1510.01,584.13ZM1511.93,590.64Q1511.93,589.11 1514.62,589.11Q1517.30,589.11 1517.30,590.64L1516.44,594.10Q1514.62,594.96 1512.80,594.10ZM1514.67,600.48Q1514.67,598.96 1517.34,598.96Q1520.00,598.96 1520.00,600.48L1519.15,603.90Q1517.34,604.76 1515.53,603.90ZM1517.37,610.16Q1517.37,608.65 1520.02,608.65Q1522.66,608.65 1522.66,610.16L1521.81,613.56Q1520.02,614.41 1518.22,613.56ZM1520.03,619.68Q1520.03,618.18 1522.65,618.18Q1525.28,618.18 1525.28,619.68L1524.43,623.06Q1522.65,623.90 1520.87,623.06ZM1522.65,629.06Q1522.65,627.57 1525.25,627.57Q1527.85,627.57 1527.85,629.06L1527.02,632.41Q1525.25,633.24 1523.48,632.41ZM1525.22,638.29Q1525.22,636.81 1527.80,636.81Q1530.39,636.81 1530.39,638.29L1529.56,641.61Q1527.80,642.44 1526.05,641.61ZM1527.75,647.38Q1527.75,645.91 1530.32,645.91Q1532.88,645.91 1532.88,647.38L1532.06,650.68Q1530.32,651.50 1528.58,650.68ZM1514.43,525.13Q1514.43,523.51 1517.26,523.51Q1520.10,523.51 1520.10,525.13L1519.19,528.77Q1517.26,529.68 1515.34,528.77ZM1517.30,536.04Q1517.30,534.43 1520.11,534.43Q1522.92,534.43 1522.92,536.04L1522.01,539.65Q1520.11,540.55 1518.20,539.65ZM1520.12,546.76Q1520.12,545.17 1522.90,545.17Q1525.69,545.17 1525.69,546.76L1524.79,550.35Q1522.90,551.24 1521.01,550.35ZM1522.89,557.31Q1522.89,555.73 1525.65,555.73Q1528.42,555.73 1528.42,557.31L1527.53,560.86Q1525.65,561.75 1523.78,560.86ZM1525.62,567.69Q1525.62,566.12 1528.36,566.12Q1531.10,566.12 1531.10,567.69L1530.22,571.21Q1528.36,572.09 1526.50,571.21ZM1528.30,577.89Q1528.30,576.34 1531.02,576.34Q1533.74,576.34 1533.74,577.89L1532.86,581.39Q1531.02,582.26 1529.17,581.39ZM1530.94,587.93Q1530.94,586.39 1533.63,586.39Q1536.33,586.39 1536.33,587.93L1535.46,591.40Q1533.63,592.27 1531.80,591.40ZM1533.53,597.81Q1533.53,596.28 1536.21,596.28Q1538.88,596.28 1538.88,597.81L1538.02,601.25Q1536.21,602.11 1534.39,601.25ZM1536.09,607.53Q1536.09,606.01 1538.74,606.01Q1541.40,606.01 1541.40,607.53L1540.54,610.94Q1538.74,611.80 1536.94,610.94ZM1538.60,617.10Q1538.60,615.59 1541.23,615.59Q1543.87,615.59 1543.87,617.10L1543.02,620.48Q1541.23,621.33 1539.45,620.48ZM1541.07,626.51Q1541.07,625.02 1543.69,625.02Q1546.30,625.02 1546.30,626.51L1545.46,629.87Q1543.69,630.71 1541.92,629.87ZM1543.51,635.78Q1543.51,634.30 1546.11,634.30Q1548.70,634.30 1548.70,635.78L1547.87,639.12Q1546.11,639.95 1544.34,639.12ZM1545.91,644.91Q1545.91,643.44 1548.48,643.44Q1551.06,643.44 1551.06,644.91L1550.23,648.22Q1548.48,649.05 1546.74,648.22Z" fill="#0a0a0a"/>
<path d="M1021.87,600.32h0M1028.51,610.02h0M1035.04,619.57h0M1041.47,628.96h0M1047.80,638.21h0M1054.03,647.32h0M1060.17,656.29h0M1066.21,665.12h0M1072.16,673.82h0M1078.02,682.39h0M1083.80,690.83h0M1089.49,699.14h0M1095.09,707.33h0M1039.72,597.65h0M1046.23,607.39h0M1052.64,616.98h0M1058.94,626.41h0M1065.15,635.70h0M1071.26,644.85h0M1077.27,653.85h0M1083.20,662.72h0M1089.03,671.45h0M1094.78,680.06h0M1100.44,688.53h0M1106.02,696.88h0M1111.51,705.11h0M1057.65,594.96h0M1064.03,604.75h0M1070.31,614.37h0M1076.49,623.85h0M1082.57,633.18h0M1088.56,642.37h0M1094.45,651.41h0M1100.26,660.31h0M1105.97,669.08h0M1111.60,677.72h0M1117.15,686.23h0M1122.61,694.61h0M1128.00,702.87h0M1075.66,592.26h0M1081.91,602.09h0M1088.05,611.76h0M1094.10,621.28h0M1100.06,630.65h0M1105.92,639.87h0M1111.70,648.95h0M1117.38,657.89h0M1122.98,666.70h0M1128.49,675.37h0M1133.93,683.91h0M1139.28,692.33h0M1144.55,700.62h0M1093.74,589.56h0M1099.86,599.43h0M1105.87,609.14h0M1111.80,618.70h0M1117.63,628.11h0M1123.37,637.37h0M1129.02,646.49h0M1134.58,655.47h0M1140.06,664.31h0M1145.45,673.02h0M1150.77,681.59h0M1156.00,690.04h0M1161.16,698.37h0M1111.90,586.84h0M1117.89,596.75h0M1123.77,606.51h0M1129.56,616.10h0M1135.27,625.55h0M1140.88,634.85h0M1146.41,644.01h0M1151.85,653.03h0M1157.20,661.91h0M1162.48,670.65h0M1167.68,679.26h0M1172.80,687.75h0M1177.84,696.10h0M1130.14,584.11h0M1135.99,594.06h0M1141.74,603.86h0M1147.41,613.50h0M1152.98,622.99h0M1158.47,632.33h0M1169.18,650.58h0M1174.42,659.49h0M1179.58,668.27h0M1184.66,676.92h0M1189.66,685.44h0M1194.59,693.83h0M1148.46,581.36h0M1154.17,591.36h0M1159.79,601.20h0M1165.33,610.89h0M1170.77,620.42h0M1176.13,629.80h0M1181.40,639.03h0M1186.59,648.12h0M1191.71,657.07h0M1196.74,665.89h0M1201.70,674.57h0M1206.59,683.12h0M1211.40,691.55h0M1166.86,578.61h0M1172.44,588.65h0M1177.92,598.53h0M1183.32,608.26h0M1188.63,617.83h0M1193.86,627.25h0M1199.01,636.52h0M1204.07,645.65h0M1209.06,654.64h0M1213.98,663.49h0M1218.82,672.21h0M1223.58,680.80h0M1228.28,689.26h0M1185.34,575.84h0M1190.78,585.93h0M1196.13,595.86h0M1201.39,605.62h0M1206.57,615.23h0M1211.67,624.69h0M1216.69,634.01h0M1221.63,643.17h0M1226.49,652.20h0M1231.28,661.09h0M1236.00,669.84h0M1240.65,678.47h0M1245.22,686.96h0M1203.90,573.06h0M1209.20,583.20h0M1214.41,593.16h0M1219.54,602.97h0M1224.58,612.63h0M1229.55,622.13h0M1234.44,631.48h0M1239.25,640.68h0M1243.99,649.75h0M1248.66,658.67h0M1253.25,667.46h0M1257.78,676.12h0M1262.24,684.65h0M1222.54,570.27h0M1227.70,580.45h0M1232.77,590.46h0M1237.76,600.31h0M1242.67,610.01h0M1247.51,619.55h0M1252.27,628.94h0M1256.95,638.19h0M1261.56,647.29h0M1266.10,656.25h0M1270.57,665.08h0M1274.98,673.77h0M1279.32,682.33h0M1241.26,567.47h0M1246.28,577.69h0M1251.21,587.75h0M1256.06,597.64h0M1260.84,607.38h0M1265.54,616.96h0M1270.17,626.39h0M1274.72,635.68h0M1279.20,644.82h0M1283.62,653.82h0M1287.97,662.68h0M1292.25,671.41h0M1296.47,680.01h0M1283.69,561.12h0M1288.38,571.44h0M1292.99,581.60h0M1297.53,591.59h0M1302.00,601.42h0M1306.39,611.10h0M1310.72,620.62h0M1314.98,629.99h0M1319.17,639.22h0M1323.30,648.30h0M1327.36,657.25h0M1331.36,666.06h0M1335.30,674.74h0M1302.68,558.27h0M1307.23,568.64h0M1311.70,578.84h0M1316.09,588.88h0M1320.42,598.76h0M1324.68,608.47h0M1328.87,618.03h0M1332.99,627.45h0M1337.05,636.71h0M1341.05,645.84h0M1344.98,654.82h0M1348.86,663.67h0M1352.67,672.38h0M1321.76,555.42h0M1326.15,565.83h0M1330.48,576.08h0M1334.73,586.16h0M1338.92,596.08h0M1343.04,605.84h0M1347.09,615.44h0M1351.08,624.89h0M1355.00,634.20h0M1358.87,643.36h0M1362.68,652.38h0M1366.43,661.26h0M1370.12,670.01h0M1340.92,552.55h0M1345.17,563.01h0M1349.34,573.30h0M1353.45,583.43h0M1357.50,593.39h0M1361.47,603.19h0M1365.39,612.84h0M1369.24,622.33h0M1373.03,631.67h0M1376.77,640.87h0M1380.45,649.93h0M1384.07,658.85h0M1387.63,667.63h0M1360.16,549.67h0M1364.26,560.18h0M1368.29,570.51h0M1372.25,580.68h0M1376.15,590.69h0M1379.99,600.53h0M1383.77,610.22h0M1387.48,619.75h0M1391.14,629.14h0M1394.74,638.38h0M1398.29,647.47h0M1401.78,656.43h0M1405.21,665.25h0M1379.50,546.77h0M1383.44,557.33h0M1387.32,567.71h0M1391.14,577.93h0M1394.89,587.98h0M1398.59,597.86h0M1402.22,607.59h0M1405.80,617.17h0M1409.32,626.59h0M1412.79,635.87h0M1416.20,645.00h0M1419.56,653.99h0M1422.87,662.85h0M1398.91,543.86h0M1402.71,554.47h0M1406.43,564.90h0M1410.10,575.16h0M1413.71,585.25h0M1417.26,595.18h0M1424.19,614.57h0M1427.58,624.03h0M1430.91,633.35h0M1434.19,642.52h0M1437.42,651.55h0M1440.60,660.45h0M1418.42,540.94h0M1422.06,551.60h0M1425.63,562.07h0M1429.15,572.38h0M1432.61,582.52h0M1436.02,592.49h0M1439.37,602.30h0M1442.67,611.96h0M1445.91,621.47h0M1449.10,630.82h0M1452.25,640.03h0M1455.35,649.10h0M1458.39,658.03h0M1438.01,538.01h0M1441.49,548.71h0M1444.91,559.24h0M1448.28,569.59h0M1451.59,579.77h0M1454.85,589.79h0M1458.06,599.64h0M1461.22,609.34h0M1464.32,618.89h0M1467.38,628.28h0M1470.39,637.53h0M1473.35,646.64h0M1476.27,655.60h0M1457.69,535.06h0M1461.01,545.81h0M1464.28,556.39h0M1467.50,566.78h0M1470.66,577.01h0M1473.77,587.07h0M1476.83,596.97h0M1479.84,606.71h0M1482.81,616.30h0M1485.73,625.73h0M1488.60,635.02h0M1491.43,644.17h0M1494.21,653.17h0M1477.46,532.10h0M1480.62,542.90h0M1483.74,553.52h0M1486.80,563.97h0M1489.81,574.24h0M1492.77,584.34h0M1495.68,594.29h0M1498.55,604.07h0M1501.37,613.70h0M1504.15,623.17h0M1506.89,632.50h0M1509.58,641.68h0M1512.23,650.72h0M1497.32,529.13h0M1500.32,539.98h0M1503.28,550.65h0M1506.18,561.14h0M1509.04,571.45h0M1511.85,581.60h0M1514.62,591.59h0M1517.34,601.42h0M1520.02,611.08h0M1522.65,620.60h0M1525.25,629.97h0M1527.80,639.19h0M1530.32,648.27h0M1517.26,526.14h0M1520.11,537.04h0M1522.90,547.76h0M1525.65,558.29h0M1528.36,568.66h0M1531.02,578.85h0M1533.63,588.88h0M1536.21,598.75h0M1538.74,608.46h0M1541.23,618.02h0M1543.69,627.43h0M1546.11,636.69h0M1548.48,645.80h0" stroke="#777" stroke-width="0.9" stroke-linecap="round" fill="none"/>
</g>
<g id="front">
<line x1="227.30" y1="952.40" x2="227.30" y2="1103.20" stroke="#111" stroke-width="1.0"  shape-rendering="crispEdges"/>
<line x1="743.70" y1="952.40" x2="743.70" y2="1103.20" stroke="#111" stroke-width="1.0"  shape-rendering="crispEdges"/>
<line x1="227.30" y1="958.60" x2="466.70" y2="958.60" stroke="#111" stroke-width="1.0"  shape-rendering="crispEdges"/>
<line x1="503.60" y1="958.60" x2="743.70" y2="958.60" stroke="#111" stroke-width="1.0"  shape-rendering="crispEdges"/>
<polygon points="227.30,958.60 239.30,956.10 239.30,961.10" fill="#000"/>
<polygon points="743.70,958.60 731.70,956.10 731.70,961.10" fill="#000"/>
<text x="485.00" y="964.40" text-anchor="middle" font-size="16.2" textLength="27.0" lengthAdjust="spacingAndGlyphs" class="dt">582</text>
<path d="M694.30,1098.00L694.30,1092.00C694.30,1084.00 687.80,1077.60 679.80,1077.60C671.80,1077.60 665.40,1084.00 665.40,1092.00C665.40,1101.50 660.50,1108.80 649.50,1108.80L521.00,1108.80C511.00,1108.80 504.50,1103.00 503.80,1092.00C503.40,1080.00 501.00,1072.20 494.40,1072.20C488.00,1072.20 486.00,1080.00 485.60,1092.00" fill="none" stroke="#000" stroke-width="7.35" stroke-linecap="butt"/>
<path d="M694.30,1098.00L694.30,1092.00C694.30,1084.00 687.80,1077.60 679.80,1077.60C671.80,1077.60 665.40,1084.00 665.40,1092.00C665.40,1101.50 660.50,1108.80 649.50,1108.80L521.00,1108.80C511.00,1108.80 504.50,1103.00 503.80,1092.00C503.40,1080.00 501.00,1072.20 494.40,1072.20C488.00,1072.20 486.00,1080.00 485.60,1092.00" fill="none" stroke="#fff" stroke-width="4.65" stroke-linecap="butt"/>
<rect x="662.30" y="1091.60" width="6.90" height="2.80" fill="#fff" stroke="#000" stroke-width="0.9"/>
<path d="M498.00,1100.00C499.40,1088.00 496.00,1080.60 489.50,1080.20" fill="none" stroke="#000" stroke-width="4.60" stroke-linecap="butt"/>
<path d="M498.00,1100.00C499.40,1088.00 496.00,1080.60 489.50,1080.20" fill="none" stroke="#fff" stroke-width="2.20" stroke-linecap="butt"/>
<path d="M697.50,1092.00L697.50,1078.20C697.50,1075.60 696.40,1075.20 694.80,1075.20L692.60,1075.20C691.00,1075.40 691.10,1076.40 691.60,1077.40L694.10,1083.50" fill="#fff" stroke="#000" stroke-width="1.3"/>
<rect x="691.80" y="1091.90" width="5.50" height="6.80" fill="#fff" stroke="#000" stroke-width="1.3"/>
<rect x="690.40" y="1098.70" width="9.20" height="3.30" fill="#fff" stroke="#000" stroke-width="1.3"/>
<rect x="685.40" y="1102.00" width="19.10" height="11.80" fill="#fff" stroke="#000" stroke-width="1.2"/>
<path d="M611.70,1072.00C611.00,1040.00 603.00,1021.20 586.60,1021.20C571.00,1021.20 567.50,1040.00 562.50,1061.50C558.00,1081.00 553.00,1091.40 538.00,1091.40L520.60,1091.40" fill="none" stroke="#000" stroke-width="13.85" stroke-linecap="butt"/>
<path d="M611.70,1072.00C611.00,1040.00 603.00,1021.20 586.60,1021.20C571.00,1021.20 567.50,1040.00 562.50,1061.50C558.00,1081.00 553.00,1091.40 538.00,1091.40L520.60,1091.40" fill="none" stroke="#fff" stroke-width="10.95" stroke-linecap="butt"/>
<rect x="514.00" y="1084.60" width="7.60" height="13.60" fill="#fff" stroke="#000" stroke-width="1.0"/>
<rect x="506.40" y="1083.00" width="7.60" height="17.00" fill="#111" stroke="#000" stroke-width="1.0"/>
<rect x="507.20" y="1087.00" width="6.00" height="4.00" fill="#fff" stroke="#000" stroke-width="0.6"/>
<rect x="507.20" y="1092.20" width="6.00" height="4.00" fill="#fff" stroke="#000" stroke-width="0.6"/>
<rect x="605.00" y="1071.40" width="13.30" height="7.20" fill="#fff" stroke="#000" stroke-width="1.3"/>
<rect x="604.40" y="1078.60" width="14.40" height="6.20" fill="#fff" stroke="#000" stroke-width="1.3"/>
<rect x="602.20" y="1084.80" width="19.80" height="17.10" fill="#fff" stroke="#000" stroke-width="1.2"/>
<line x1="622.00" y1="1095.70" x2="602.20" y2="1095.70" stroke="#000" stroke-width="1.0" />
<rect x="603.60" y="1101.90" width="17.00" height="1.50" fill="#fff" stroke="#000" stroke-width="0.9"/>
<path d="M627.60,1110.00L626.40,1107.20L624.60,1106.60L622.80,1103.20L601.40,1103.20L599.60,1106.60L597.80,1107.20L596.60,1110.00Z" fill="#fff" stroke="#000" stroke-width="1.3"/>
<line x1="623.40" y1="1104.20" x2="600.80" y2="1104.20" stroke="#000" stroke-width="1.6" />
<path d="M276.70,1098.00L276.70,1092.00C276.70,1084.00 283.20,1077.60 291.20,1077.60C299.20,1077.60 305.60,1084.00 305.60,1092.00C305.60,1101.50 310.50,1108.80 321.50,1108.80L450.00,1108.80C460.00,1108.80 466.50,1103.00 467.20,1092.00C467.60,1080.00 470.00,1072.20 476.60,1072.20C483.00,1072.20 485.00,1080.00 485.40,1092.00" fill="none" stroke="#000" stroke-width="7.35" stroke-linecap="butt"/>
<path d="M276.70,1098.00L276.70,1092.00C276.70,1084.00 283.20,1077.60 291.20,1077.60C299.20,1077.60 305.60,1084.00 305.60,1092.00C305.60,1101.50 310.50,1108.80 321.50,1108.80L450.00,1108.80C460.00,1108.80 466.50,1103.00 467.20,1092.00C467.60,1080.00 470.00,1072.20 476.60,1072.20C483.00,1072.20 485.00,1080.00 485.40,1092.00" fill="none" stroke="#fff" stroke-width="4.65" stroke-linecap="butt"/>
<rect x="301.80" y="1091.60" width="6.90" height="2.80" fill="#fff" stroke="#000" stroke-width="0.9"/>
<path d="M473.00,1100.00C471.60,1088.00 475.00,1080.60 481.50,1080.20" fill="none" stroke="#000" stroke-width="4.60" stroke-linecap="butt"/>
<path d="M473.00,1100.00C471.60,1088.00 475.00,1080.60 481.50,1080.20" fill="none" stroke="#fff" stroke-width="2.20" stroke-linecap="butt"/>
<path d="M273.50,1092.00L273.50,1078.20C273.50,1075.60 274.60,1075.20 276.20,1075.20L278.40,1075.20C280.00,1075.40 279.90,1076.40 279.40,1077.40L276.90,1083.50" fill="#fff" stroke="#000" stroke-width="1.3"/>
<rect x="273.70" y="1091.90" width="5.50" height="6.80" fill="#fff" stroke="#000" stroke-width="1.3"/>
<rect x="271.40" y="1098.70" width="9.20" height="3.30" fill="#fff" stroke="#000" stroke-width="1.3"/>
<rect x="266.50" y="1102.00" width="19.10" height="11.80" fill="#fff" stroke="#000" stroke-width="1.2"/>
<path d="M359.30,1072.00C360.00,1040.00 368.00,1021.20 384.40,1021.20C400.00,1021.20 403.50,1040.00 408.50,1061.50C413.00,1081.00 418.00,1091.40 433.00,1091.40L450.40,1091.40" fill="none" stroke="#000" stroke-width="13.85" stroke-linecap="butt"/>
<path d="M359.30,1072.00C360.00,1040.00 368.00,1021.20 384.40,1021.20C400.00,1021.20 403.50,1040.00 408.50,1061.50C413.00,1081.00 418.00,1091.40 433.00,1091.40L450.40,1091.40" fill="none" stroke="#fff" stroke-width="10.95" stroke-linecap="butt"/>
<rect x="449.40" y="1084.60" width="7.60" height="13.60" fill="#fff" stroke="#000" stroke-width="1.0"/>
<rect x="457.00" y="1083.00" width="7.60" height="17.00" fill="#111" stroke="#000" stroke-width="1.0"/>
<rect x="457.80" y="1087.00" width="6.00" height="4.00" fill="#fff" stroke="#000" stroke-width="0.6"/>
<rect x="457.80" y="1092.20" width="6.00" height="4.00" fill="#fff" stroke="#000" stroke-width="0.6"/>
<rect x="352.70" y="1071.40" width="13.30" height="7.20" fill="#fff" stroke="#000" stroke-width="1.3"/>
<rect x="352.20" y="1078.60" width="14.40" height="6.20" fill="#fff" stroke="#000" stroke-width="1.3"/>
<rect x="349.00" y="1084.80" width="19.80" height="17.10" fill="#fff" stroke="#000" stroke-width="1.2"/>
<line x1="349.00" y1="1095.70" x2="368.80" y2="1095.70" stroke="#000" stroke-width="1.0" />
<rect x="350.40" y="1101.90" width="17.00" height="1.50" fill="#fff" stroke="#000" stroke-width="0.9"/>
<path d="M343.40,1110.00L344.60,1107.20L346.40,1106.60L348.20,1103.20L369.60,1103.20L371.40,1106.60L373.20,1107.20L374.40,1110.00Z" fill="#fff" stroke="#000" stroke-width="1.3"/>
<line x1="347.60" y1="1104.20" x2="370.20" y2="1104.20" stroke="#000" stroke-width="1.6" />
<rect x="481.4" y="1088.2" width="8" height="7" fill="#fff" stroke="#000" stroke-width="1"/>
<rect x="480.0" y="1095.2" width="10.8" height="3.4" fill="#fff" stroke="#000" stroke-width="0.9"/>
<rect x="478.6" y="1098.6" width="13.6" height="4.0" fill="#fff" stroke="#000" stroke-width="0.9"/>
<rect x="476.9" y="1102.6" width="16.2" height="11.2" fill="#fff" stroke="#000" stroke-width="1.2"/>
</g>
<g id="frontplate">
<rect x="174.3" y="1115.4" width="622.40" height="2.9" fill="#555" stroke="#000" stroke-width="1"/>
<rect x="226.9" y="1110.4" width="517.20" height="7.4" fill="#3a3a3a" stroke="#000" stroke-width="1.1"/>
<line x1="227.90" y1="1114.30" x2="743.10" y2="1114.30" stroke="#8a8a8a" stroke-width="0.8" />
<line x1="227.90" y1="1111.90" x2="743.10" y2="1111.90" stroke="#111" stroke-width="1.6" />
<line x1="251.50" y1="1110.40" x2="251.50" y2="1120.50" stroke="#000" stroke-width="1.2" />
<line x1="719.50" y1="1110.40" x2="719.50" y2="1120.50" stroke="#000" stroke-width="1.2" />
<path d="M250.54,1117.8L254.54,1117.8L253.94,1121L251.14,1121ZM268.27,1117.8L272.27,1117.8L271.67,1121L268.87,1121ZM285.99,1117.8L289.99,1117.8L289.39,1121L286.59,1121ZM303.71,1117.8L307.71,1117.8L307.11,1121L304.31,1121ZM321.44,1117.8L325.44,1117.8L324.84,1121L322.04,1121ZM339.16,1117.8L343.16,1117.8L342.56,1121L339.76,1121ZM356.89,1117.8L360.89,1117.8L360.29,1121L357.49,1121ZM374.61,1117.8L378.61,1117.8L378.01,1121L375.21,1121ZM392.33,1117.8L396.33,1117.8L395.73,1121L392.93,1121ZM410.06,1117.8L414.06,1117.8L413.46,1121L410.66,1121ZM427.78,1117.8L431.78,1117.8L431.18,1121L428.38,1121ZM445.51,1117.8L449.51,1117.8L448.91,1121L446.11,1121ZM463.23,1117.8L467.23,1117.8L466.63,1121L463.83,1121ZM503.11,1117.8L507.11,1117.8L506.51,1121L503.71,1121ZM520.83,1117.8L524.83,1117.8L524.23,1121L521.43,1121ZM538.56,1117.8L542.56,1117.8L541.96,1121L539.16,1121ZM556.28,1117.8L560.28,1117.8L559.68,1121L556.88,1121ZM574.01,1117.8L578.01,1117.8L577.41,1121L574.61,1121ZM591.73,1117.8L595.73,1117.8L595.13,1121L592.33,1121ZM609.45,1117.8L613.45,1117.8L612.85,1121L610.05,1121ZM627.18,1117.8L631.18,1117.8L630.58,1121L627.78,1121ZM644.90,1117.8L648.90,1117.8L648.30,1121L645.50,1121ZM662.63,1117.8L666.63,1117.8L666.03,1121L663.23,1121ZM680.35,1117.8L684.35,1117.8L683.75,1121L680.95,1121ZM698.07,1117.8L702.07,1117.8L701.47,1121L698.67,1121ZM715.80,1117.8L719.80,1117.8L719.20,1121L716.40,1121Z" fill="#111"/>
</g>
<rect x="266.50" y="1102.0" width="19.1" height="11.8" fill="#fff" stroke="#000" stroke-width="1.2"/>
<rect x="685.40" y="1102.0" width="19.1" height="11.8" fill="#fff" stroke="#000" stroke-width="1.2"/>
<rect x="476.9" y="1102.6" width="16.2" height="11.2" fill="#fff" stroke="#000" stroke-width="1.2"/>
<g id="side">
<line x1="1188.30" y1="940.50" x2="1188.30" y2="1105.60" stroke="#111" stroke-width="1.0"  shape-rendering="crispEdges"/>
<line x1="1534.40" y1="940.50" x2="1534.40" y2="1105.60" stroke="#111" stroke-width="1.0"  shape-rendering="crispEdges"/>
<line x1="1188.30" y1="947.10" x2="1342.60" y2="947.10" stroke="#111" stroke-width="1.0"  shape-rendering="crispEdges"/>
<line x1="1380.50" y1="947.10" x2="1534.40" y2="947.10" stroke="#111" stroke-width="1.0"  shape-rendering="crispEdges"/>
<polygon points="1188.30,947.10 1200.30,944.60 1200.30,949.60" fill="#000"/>
<polygon points="1534.40,947.10 1522.40,944.60 1522.40,949.60" fill="#000"/>
<text x="1361.50" y="952.90" text-anchor="middle" font-size="16.2" textLength="27.4" lengthAdjust="spacingAndGlyphs" class="dt">390</text>
<path d="M1210.90,1100.00L1210.90,1091.40C1210.90,1083.40 1217.30,1077.00 1225.30,1077.00C1233.30,1077.00 1239.70,1083.40 1239.70,1091.40C1239.70,1100.50 1245.00,1107.60 1256.00,1107.60L1340.00,1107.60" fill="none" stroke="#000" stroke-width="7.35" stroke-linecap="butt"/>
<path d="M1210.90,1100.00L1210.90,1091.40C1210.90,1083.40 1217.30,1077.00 1225.30,1077.00C1233.30,1077.00 1239.70,1083.40 1239.70,1091.40C1239.70,1100.50 1245.00,1107.60 1256.00,1107.60L1340.00,1107.60" fill="none" stroke="#fff" stroke-width="4.65" stroke-linecap="butt"/>
<rect x="1236.40" y="1090.60" width="6.80" height="2.80" fill="#fff" stroke="#000" stroke-width="0.9"/>
<line x1="1283.40" y1="1104.60" x2="1283.40" y2="1110.40" stroke="#000" stroke-width="1.0" />
<rect x="1207.80" y="1092.40" width="6.00" height="6.60" fill="#fff" stroke="#000" stroke-width="1.3"/>
<rect x="1206.00" y="1099.00" width="9.60" height="3.20" fill="#fff" stroke="#000" stroke-width="1.3"/>
<rect x="1193.40" y="1113.6" width="34.3" height="2.0" fill="#444" stroke="#000" stroke-width="0.8"/>
<rect x="1201.60" y="1102.20" width="18.50" height="11.60" fill="#fff" stroke="#000" stroke-width="1.2"/>
<path d="M1511.90,1100.00L1511.90,1091.40C1511.90,1083.40 1505.50,1077.00 1497.50,1077.00C1489.50,1077.00 1483.10,1083.40 1483.10,1091.40C1483.10,1100.50 1477.80,1107.60 1466.80,1107.60L1382.80,1107.60" fill="none" stroke="#000" stroke-width="7.35" stroke-linecap="butt"/>
<path d="M1511.90,1100.00L1511.90,1091.40C1511.90,1083.40 1505.50,1077.00 1497.50,1077.00C1489.50,1077.00 1483.10,1083.40 1483.10,1091.40C1483.10,1100.50 1477.80,1107.60 1466.80,1107.60L1382.80,1107.60" fill="none" stroke="#fff" stroke-width="4.65" stroke-linecap="butt"/>
<rect x="1479.60" y="1090.60" width="6.80" height="2.80" fill="#fff" stroke="#000" stroke-width="0.9"/>
<line x1="1439.40" y1="1104.60" x2="1439.40" y2="1110.40" stroke="#000" stroke-width="1.0" />
<rect x="1509.00" y="1092.40" width="6.00" height="6.60" fill="#fff" stroke="#000" stroke-width="1.3"/>
<rect x="1507.20" y="1099.00" width="9.60" height="3.20" fill="#fff" stroke="#000" stroke-width="1.3"/>
<rect x="1495.10" y="1113.6" width="34.3" height="2.0" fill="#444" stroke="#000" stroke-width="0.8"/>
<rect x="1502.70" y="1102.20" width="18.50" height="11.60" fill="#fff" stroke="#000" stroke-width="1.2"/>
<rect x="1332" y="1086.2" width="74.7" height="18.4" fill="#fff" stroke="#000" stroke-width="1.4"/>
<rect x="1340.5" y="1084.5" width="57.5" height="21.5" fill="#fff" stroke="#000" stroke-width="1.4"/>
<rect x="1346.3" y="1106" width="30.4" height="4.2" fill="#fff" stroke="#000" stroke-width="1.0"/>
<rect x="1354" y="1103.4" width="14" height="4.4" fill="#fff" stroke="#000" stroke-width="1.0"/>
<path d="M1351.4,1101.2 C1346.5,1100.6 1344.9,1097 1344.8,1092 L1345.6,1040 C1345.8,1026 1348.5,1019 1354.6,1019 C1360.5,1019 1362.6,1024 1363.6,1032 L1368,1075.6 L1355.5,1075.6 C1355.3,1056 1354,1040 1351.1,1029.6" fill="#fff" stroke="#000" stroke-width="1.5"/>
<path d="M1351.1,1029.6 C1354,1040 1355.3,1056 1355.5,1075.6" fill="none" stroke="#000" stroke-width="1.5"/>
<rect x="1355.5" y="1075.6" width="12.5" height="6.8" fill="#fff" stroke="#000" stroke-width="1.3"/>
<rect x="1355.0" y="1082.4" width="13.6" height="5.2" fill="#fff" stroke="#000" stroke-width="1.3"/>
<rect x="1351.8" y="1088.8" width="18.6" height="12.8" fill="#fff" stroke="#000" stroke-width="2.0"/>
<line x1="1353.00" y1="1098.60" x2="1369.40" y2="1098.60" stroke="#333" stroke-width="1.2" />
<path d="M1374.6,1102.6 V1094.6 C1374.6,1090 1381.6,1090 1381.6,1094.6 V1102.6" fill="none" stroke="#000" stroke-width="2.4"/>
<path d="M1385.4,1096 C1385.0,1085.6 1394.6,1085.6 1394.2,1096" fill="none" stroke="#000" stroke-width="2.6"/>
<path d="M1387.6,1102.8 V1094 M1392.4,1102.8 V1094" fill="none" stroke="#000" stroke-width="1.0"/>
<rect x="1139.5" y="1115.4" width="443.80" height="2.9" fill="#555" stroke="#000" stroke-width="1"/>
<rect x="1229.10" y="1110.6" width="264.60" height="7.2" fill="#3a3a3a" stroke="#000" stroke-width="1.1"/>
<line x1="1230.10" y1="1114.20" x2="1492.70" y2="1114.20" stroke="#8a8a8a" stroke-width="0.8" />
<line x1="1230.10" y1="1112.00" x2="1492.70" y2="1112.00" stroke="#111" stroke-width="1.4" />
<line x1="1253.30" y1="1110.40" x2="1253.30" y2="1120.50" stroke="#000" stroke-width="1.2" />
<line x1="1469.50" y1="1110.40" x2="1469.50" y2="1120.50" stroke="#000" stroke-width="1.2" />
<path d="M1253.06,1117.8L1257.06,1117.8L1256.46,1121L1253.66,1121ZM1270.78,1117.8L1274.78,1117.8L1274.18,1121L1271.38,1121ZM1288.50,1117.8L1292.50,1117.8L1291.90,1121L1289.10,1121ZM1306.23,1117.8L1310.23,1117.8L1309.63,1121L1306.83,1121ZM1323.95,1117.8L1327.95,1117.8L1327.35,1121L1324.55,1121ZM1341.68,1117.8L1345.68,1117.8L1345.08,1121L1342.28,1121ZM1359.40,1117.8L1363.40,1117.8L1362.80,1121L1360.00,1121ZM1377.12,1117.8L1381.12,1117.8L1380.52,1121L1377.72,1121ZM1394.85,1117.8L1398.85,1117.8L1398.25,1121L1395.45,1121ZM1412.57,1117.8L1416.57,1117.8L1415.97,1121L1413.17,1121ZM1430.30,1117.8L1434.30,1117.8L1433.70,1121L1430.90,1121ZM1448.02,1117.8L1452.02,1117.8L1451.42,1121L1448.62,1121ZM1465.74,1117.8L1469.74,1117.8L1469.14,1121L1466.34,1121Z" fill="#111"/>
<rect x="1201.60" y="1102.2" width="18.5" height="11.6" fill="#fff" stroke="#000" stroke-width="1.2"/>
<rect x="1502.70" y="1102.2" width="18.5" height="11.6" fill="#fff" stroke="#000" stroke-width="1.2"/>
</g>
</svg>
</body>
</html>
